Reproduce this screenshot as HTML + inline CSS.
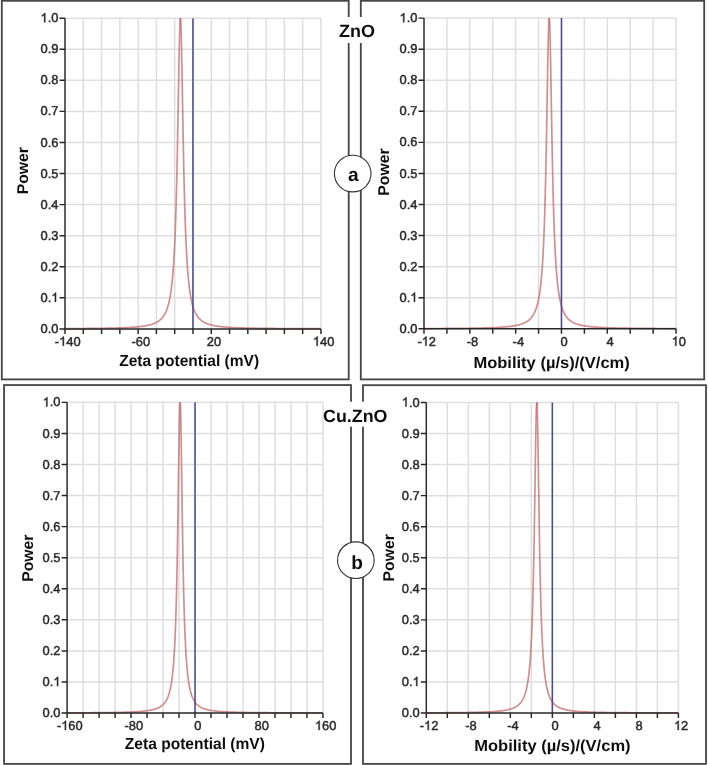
<!DOCTYPE html>
<html><head><meta charset="utf-8"><title>Zeta potential</title>
<style>
html,body{margin:0;padding:0;background:#fff;}
body{width:708px;height:765px;overflow:hidden;}
svg{display:block;will-change:transform;}
text{text-rendering:geometricPrecision;}
.t{font-family:"Liberation Sans",sans-serif;font-size:12.9px;fill:#2a2a2a;stroke:#2a2a2a;stroke-width:0.45px;}
.b{font-family:"Liberation Sans",sans-serif;font-size:16.0px;font-weight:bold;fill:#111;}
.z{fill-opacity:0;stroke-opacity:0;}
.o{fill:#2a2a2a;stroke:#2a2a2a;stroke-width:0.035;}
.p{font-family:"Liberation Sans",sans-serif;font-size:15.6px;font-weight:bold;fill:#111;}
.h{font-family:"Liberation Sans",sans-serif;font-size:17.7px;font-weight:bold;fill:#111;}
.c{font-family:"Liberation Sans",sans-serif;font-size:19.1px;font-weight:bold;fill:#111;}
</style></head>
<body>
<svg width="708" height="765" viewBox="0 0 708 765">
<defs><filter id="bl" x="0" y="0" width="1" height="1"><feGaussianBlur stdDeviation="0.45"/></filter></defs>
<g filter="url(#bl)">
<rect width="708" height="765" fill="#fff"/>
<rect x="1.8" y="0.8" width="346.9" height="378.6" fill="none" stroke="#444444" stroke-width="1.8"/>
<rect x="360.8" y="0.8" width="343.4" height="378.6" fill="none" stroke="#444444" stroke-width="1.8"/>
<rect x="4.05" y="385.05" width="346.95" height="378.85" fill="none" stroke="#444444" stroke-width="1.8"/>
<rect x="363" y="385.2" width="343" height="378.7" fill="none" stroke="#444444" stroke-width="1.8"/>
<path d="M83.28 18.15V328.9M101.56 18.15V328.9M119.85 18.15V328.9M138.13 18.15V328.9M156.41 18.15V328.9M174.69 18.15V328.9M192.97 18.15V328.9M211.26 18.15V328.9M229.54 18.15V328.9M247.82 18.15V328.9M266.1 18.15V328.9M284.39 18.15V328.9M302.67 18.15V328.9M320.95 18.15V328.9M65 18.15H320.95M65 49.22H320.95M65 80.3H320.95M65 111.38H320.95M65 142.45H320.95M65 173.53H320.95M65 204.6H320.95M65 235.68H320.95M65 266.75H320.95M65 297.82H320.95" stroke="#dedede" stroke-width="1.5" fill="none"/>
<clipPath id="c5"><rect x="65" y="18.05" width="255.95" height="312.75"/></clipPath>
<path d="M65 328.61 L65.25 328.61 L65.5 328.61 L65.75 328.61 L66 328.61 L66.25 328.61 L66.5 328.61 L66.75 328.61 L67 328.6 L67.25 328.6 L67.5 328.6 L67.75 328.6 L68 328.6 L68.25 328.6 L68.5 328.6 L68.75 328.59 L69 328.59 L69.25 328.59 L69.5 328.59 L69.75 328.59 L70 328.59 L70.25 328.59 L70.5 328.59 L70.75 328.58 L71 328.58 L71.25 328.58 L71.5 328.58 L71.75 328.58 L72 328.58 L72.25 328.57 L72.5 328.57 L72.75 328.57 L73 328.57 L73.25 328.57 L73.5 328.57 L73.75 328.57 L74 328.56 L74.25 328.56 L74.5 328.56 L74.75 328.56 L75 328.56 L75.25 328.56 L75.5 328.55 L75.75 328.55 L76 328.55 L76.25 328.55 L76.5 328.55 L76.75 328.55 L77 328.54 L77.25 328.54 L77.5 328.54 L77.75 328.54 L78 328.54 L78.25 328.54 L78.5 328.53 L78.75 328.53 L79 328.53 L79.25 328.53 L79.5 328.53 L79.75 328.52 L80 328.52 L80.25 328.52 L80.5 328.52 L80.75 328.52 L81 328.52 L81.25 328.51 L81.5 328.51 L81.75 328.51 L82 328.51 L82.25 328.51 L82.5 328.5 L82.75 328.5 L83 328.5 L83.25 328.5 L83.5 328.5 L83.75 328.49 L84 328.49 L84.25 328.49 L84.5 328.49 L84.75 328.48 L85 328.48 L85.25 328.48 L85.5 328.48 L85.75 328.48 L86 328.47 L86.25 328.47 L86.5 328.47 L86.75 328.47 L87 328.46 L87.25 328.46 L87.5 328.46 L87.75 328.46 L88 328.45 L88.25 328.45 L88.5 328.45 L88.75 328.45 L89 328.44 L89.25 328.44 L89.5 328.44 L89.75 328.44 L90 328.43 L90.25 328.43 L90.5 328.43 L90.75 328.43 L91 328.42 L91.25 328.42 L91.5 328.42 L91.75 328.42 L92 328.41 L92.25 328.41 L92.5 328.41 L92.75 328.41 L93 328.4 L93.25 328.4 L93.5 328.4 L93.75 328.39 L94 328.39 L94.25 328.39 L94.5 328.38 L94.75 328.38 L95 328.38 L95.25 328.38 L95.5 328.37 L95.75 328.37 L96 328.37 L96.25 328.36 L96.5 328.36 L96.75 328.36 L97 328.35 L97.25 328.35 L97.5 328.35 L97.75 328.34 L98 328.34 L98.25 328.34 L98.5 328.33 L98.75 328.33 L99 328.33 L99.25 328.32 L99.5 328.32 L99.75 328.32 L100 328.31 L100.25 328.31 L100.5 328.3 L100.75 328.3 L101 328.3 L101.25 328.29 L101.5 328.29 L101.75 328.29 L102 328.28 L102.25 328.28 L102.5 328.27 L102.75 328.27 L103 328.27 L103.25 328.26 L103.5 328.26 L103.75 328.25 L104 328.25 L104.25 328.24 L104.5 328.24 L104.75 328.24 L105 328.23 L105.25 328.23 L105.5 328.22 L105.75 328.22 L106 328.21 L106.25 328.21 L106.5 328.2 L106.75 328.2 L107 328.2 L107.25 328.19 L107.5 328.19 L107.75 328.18 L108 328.18 L108.25 328.17 L108.5 328.17 L108.75 328.16 L109 328.16 L109.25 328.15 L109.5 328.14 L109.75 328.14 L110 328.13 L110.25 328.13 L110.5 328.12 L110.75 328.12 L111 328.11 L111.25 328.11 L111.5 328.1 L111.75 328.09 L112 328.09 L112.25 328.08 L112.5 328.08 L112.75 328.07 L113 328.06 L113.25 328.06 L113.5 328.05 L113.75 328.05 L114 328.04 L114.25 328.03 L114.5 328.03 L114.75 328.02 L115 328.01 L115.25 328.01 L115.5 328 L115.75 327.99 L116 327.98 L116.25 327.98 L116.5 327.97 L116.75 327.96 L117 327.96 L117.25 327.95 L117.5 327.94 L117.75 327.93 L118 327.93 L118.25 327.92 L118.5 327.91 L118.75 327.9 L119 327.89 L119.25 327.89 L119.5 327.88 L119.75 327.87 L120 327.86 L120.25 327.85 L120.5 327.84 L120.75 327.83 L121 327.82 L121.25 327.82 L121.5 327.81 L121.75 327.8 L122 327.79 L122.25 327.78 L122.5 327.77 L122.75 327.76 L123 327.75 L123.25 327.74 L123.5 327.73 L123.75 327.72 L124 327.71 L124.25 327.7 L124.5 327.69 L124.75 327.68 L125 327.66 L125.25 327.65 L125.5 327.64 L125.75 327.63 L126 327.62 L126.25 327.61 L126.5 327.6 L126.75 327.58 L127 327.57 L127.25 327.56 L127.5 327.55 L127.75 327.53 L128 327.52 L128.25 327.51 L128.5 327.49 L128.75 327.48 L129 327.47 L129.25 327.45 L129.5 327.44 L129.75 327.42 L130 327.41 L130.25 327.39 L130.5 327.38 L130.75 327.36 L131 327.35 L131.25 327.33 L131.5 327.32 L131.75 327.3 L132 327.28 L132.25 327.27 L132.5 327.25 L132.75 327.23 L133 327.21 L133.25 327.2 L133.5 327.18 L133.75 327.16 L134 327.14 L134.25 327.12 L134.5 327.1 L134.75 327.08 L135 327.06 L135.25 327.04 L135.5 327.02 L135.75 327 L136 326.98 L136.25 326.96 L136.5 326.94 L136.75 326.91 L137 326.89 L137.25 326.87 L137.5 326.85 L137.75 326.82 L138 326.8 L138.25 326.77 L138.5 326.75 L138.75 326.72 L139 326.69 L139.25 326.67 L139.5 326.64 L139.75 326.61 L140 326.59 L140.25 326.56 L140.5 326.53 L140.75 326.5 L141 326.47 L141.25 326.44 L141.5 326.4 L141.75 326.37 L142 326.34 L142.25 326.31 L142.5 326.27 L142.75 326.24 L143 326.2 L143.25 326.17 L143.5 326.13 L143.75 326.09 L144 326.05 L144.25 326.01 L144.5 325.97 L144.75 325.93 L145 325.89 L145.25 325.85 L145.5 325.81 L145.75 325.76 L146 325.72 L146.25 325.67 L146.5 325.62 L146.75 325.57 L147 325.52 L147.25 325.47 L147.5 325.42 L147.75 325.37 L148 325.32 L148.25 325.26 L148.5 325.2 L148.75 325.15 L149 325.09 L149.25 325.03 L149.5 324.96 L149.75 324.9 L150 324.83 L150.25 324.77 L150.5 324.7 L150.75 324.63 L151 324.56 L151.25 324.48 L151.5 324.41 L151.75 324.33 L152 324.25 L152.25 324.17 L152.5 324.09 L152.75 324 L153 323.91 L153.25 323.82 L153.5 323.73 L153.75 323.63 L154 323.53 L154.25 323.43 L154.5 323.33 L154.75 323.22 L155 323.11 L155.25 323 L155.5 322.88 L155.75 322.76 L156 322.63 L156.25 322.51 L156.5 322.38 L156.75 322.24 L157 322.1 L157.25 321.96 L157.5 321.81 L157.75 321.65 L158 321.49 L158.25 321.33 L158.5 321.16 L158.75 320.99 L159 320.8 L159.25 320.62 L159.5 320.42 L159.75 320.22 L160 320.01 L160.25 319.8 L160.5 319.58 L160.75 319.34 L161 319.1 L161.25 318.86 L161.5 318.6 L161.75 318.33 L162 318.05 L162.25 317.76 L162.5 317.46 L162.75 317.14 L163 316.82 L163.25 316.47 L163.5 316.12 L163.75 315.75 L164 315.36 L164.25 314.96 L164.5 314.54 L164.75 314.1 L165 313.64 L165.25 313.16 L165.5 312.65 L165.75 312.12 L166 311.57 L166.25 310.98 L166.5 310.37 L166.75 309.73 L167 309.05 L167.25 308.34 L167.5 307.59 L167.75 306.8 L168 305.97 L168.25 305.09 L168.5 304.16 L168.75 303.17 L169 302.13 L169.25 301.03 L169.5 299.85 L169.75 298.61 L170 297.29 L170.25 295.88 L170.5 294.38 L170.75 292.77 L171 291.06 L171.25 289.24 L171.5 287.28 L171.75 285.18 L172 282.93 L172.25 280.51 L172.5 277.91 L172.75 275.11 L173 272.09 L173.25 268.83 L173.5 265.31 L173.75 261.49 L174 257.36 L174.25 252.88 L174.5 248.01 L174.75 242.72 L175 236.97 L175.25 230.72 L175.5 223.92 L175.75 216.52 L176 208.47 L176.25 199.74 L176.5 190.27 L176.75 180.04 L177 169.02 L177.25 157.21 L177.5 144.65 L177.75 131.38 L178 117.53 L178.25 103.29 L178.5 88.88 L178.75 74.65 L179 61.01 L179.25 48.43 L179.5 37.42 L179.75 28.51 L180 22.16 L180.25 18.72 L180.4 18.15" stroke="#bf6464" stroke-opacity="0.72" stroke-width="1.7" fill="none" stroke-linejoin="round" stroke-linecap="round" clip-path="url(#c5)"/>
<path d="M180.4 18.15 L180.5 18.4 L180.75 21.23 L181 27.02 L181.25 35.46 L181.5 46.09 L181.75 58.39 L182 71.87 L182.25 86.01 L182.5 100.41 L182.75 114.71 L183 128.65 L183.25 142.05 L183.5 154.76 L183.75 166.72 L184 177.9 L184.25 188.29 L184.5 197.91 L184.75 206.78 L185 214.96 L185.25 222.49 L185.5 229.4 L185.75 235.76 L186 241.61 L186.25 246.99 L186.5 251.94 L186.75 256.49 L187 260.69 L187.25 264.57 L187.5 268.15 L187.75 271.46 L188 274.53 L188.25 277.37 L188.5 280.01 L188.75 282.46 L189 284.74 L189.25 286.87 L189.5 288.85 L189.75 290.71 L190 292.44 L190.25 294.06 L190.5 295.58 L190.75 297.01 L191 298.35 L191.25 299.61 L191.5 300.8 L191.75 301.92 L192 302.97 L192.25 303.97 L192.5 304.91 L192.75 305.8 L193 306.64 L193.25 307.44 L193.5 308.2 L193.75 308.91 L194 309.6 L194.25 310.25 L194.5 310.86 L194.75 311.45 L195 312.01 L195.25 312.55 L195.5 313.06 L195.75 313.54 L196 314.01 L196.25 314.45 L196.5 314.88 L196.75 315.28 L197 315.67 L197.25 316.05 L197.5 316.41 L197.75 316.75 L198 317.08 L198.25 317.4 L198.5 317.7 L198.75 317.99 L199 318.27 L199.25 318.54 L199.5 318.8 L199.75 319.06 L200 319.3 L200.25 319.53 L200.5 319.76 L200.75 319.97 L201 320.18 L201.25 320.38 L201.5 320.58 L201.75 320.77 L202 320.95 L202.25 321.13 L202.5 321.3 L202.75 321.46 L203 321.62 L203.25 321.78 L203.5 321.93 L203.75 322.07 L204 322.21 L204.25 322.35 L204.5 322.48 L204.75 322.61 L205 322.73 L205.25 322.86 L205.5 322.97 L205.75 323.09 L206 323.2 L206.25 323.31 L206.5 323.41 L206.75 323.51 L207 323.61 L207.25 323.71 L207.5 323.8 L207.75 323.89 L208 323.98 L208.25 324.07 L208.5 324.15 L208.75 324.23 L209 324.31 L209.25 324.39 L209.5 324.47 L209.75 324.54 L210 324.62 L210.25 324.69 L210.5 324.75 L210.75 324.82 L211 324.89 L211.25 324.95 L211.5 325.01 L211.75 325.07 L212 325.13 L212.25 325.19 L212.5 325.25 L212.75 325.3 L213 325.36 L213.25 325.41 L213.5 325.46 L213.75 325.51 L214 325.56 L214.25 325.61 L214.5 325.66 L214.75 325.71 L215 325.75 L215.25 325.8 L215.5 325.84 L215.75 325.88 L216 325.93 L216.25 325.97 L216.5 326.01 L216.75 326.05 L217 326.08 L217.25 326.12 L217.5 326.16 L217.75 326.19 L218 326.23 L218.25 326.27 L218.5 326.3 L218.75 326.33 L219 326.37 L219.25 326.4 L219.5 326.43 L219.75 326.46 L220 326.49 L220.25 326.52 L220.5 326.55 L220.75 326.58 L221 326.61 L221.25 326.64 L221.5 326.66 L221.75 326.69 L222 326.72 L222.25 326.74 L222.5 326.77 L222.75 326.79 L223 326.82 L223.25 326.84 L223.5 326.86 L223.75 326.89 L224 326.91 L224.25 326.93 L224.5 326.95 L224.75 326.98 L225 327 L225.25 327.02 L225.5 327.04 L225.75 327.06 L226 327.08 L226.25 327.1 L226.5 327.12 L226.75 327.14 L227 327.16 L227.25 327.18 L227.5 327.19 L227.75 327.21 L228 327.23 L228.25 327.25 L228.5 327.26 L228.75 327.28 L229 327.3 L229.25 327.31 L229.5 327.33 L229.75 327.34 L230 327.36 L230.25 327.38 L230.5 327.39 L230.75 327.41 L231 327.42 L231.25 327.43 L231.5 327.45 L231.75 327.46 L232 327.48 L232.25 327.49 L232.5 327.5 L232.75 327.52 L233 327.53 L233.25 327.54 L233.5 327.56 L233.75 327.57 L234 327.58 L234.25 327.59 L234.5 327.6 L234.75 327.62 L235 327.63 L235.25 327.64 L235.5 327.65 L235.75 327.66 L236 327.67 L236.25 327.68 L236.5 327.7 L236.75 327.71 L237 327.72 L237.25 327.73 L237.5 327.74 L237.75 327.75 L238 327.76 L238.25 327.77 L238.5 327.78 L238.75 327.79 L239 327.8 L239.25 327.8 L239.5 327.81 L239.75 327.82 L240 327.83 L240.25 327.84 L240.5 327.85 L240.75 327.86 L241 327.87 L241.25 327.88 L241.5 327.88 L241.75 327.89 L242 327.9 L242.25 327.91 L242.5 327.92 L242.75 327.92 L243 327.93 L243.25 327.94 L243.5 327.95 L243.75 327.95 L244 327.96 L244.25 327.97 L244.5 327.98 L244.75 327.98 L245 327.99 L245.25 328 L245.5 328 L245.75 328.01 L246 328.02 L246.25 328.02 L246.5 328.03 L246.75 328.04 L247 328.04 L247.25 328.05 L247.5 328.06 L247.75 328.06 L248 328.07 L248.25 328.08 L248.5 328.08 L248.75 328.09 L249 328.09 L249.25 328.1 L249.5 328.1 L249.75 328.11 L250 328.12 L250.25 328.12 L250.5 328.13 L250.75 328.13 L251 328.14 L251.25 328.14 L251.5 328.15 L251.75 328.15 L252 328.16 L252.25 328.16 L252.5 328.17 L252.75 328.17 L253 328.18 L253.25 328.18 L253.5 328.19 L253.75 328.19 L254 328.2 L254.25 328.2 L254.5 328.21 L254.75 328.21 L255 328.22 L255.25 328.22 L255.5 328.23 L255.75 328.23 L256 328.24 L256.25 328.24 L256.5 328.24 L256.75 328.25 L257 328.25 L257.25 328.26 L257.5 328.26 L257.75 328.27 L258 328.27 L258.25 328.27 L258.5 328.28 L258.75 328.28 L259 328.29 L259.25 328.29 L259.5 328.29 L259.75 328.3 L260 328.3 L260.25 328.3 L260.5 328.31 L260.75 328.31 L261 328.32 L261.25 328.32 L261.5 328.32 L261.75 328.33 L262 328.33 L262.25 328.33 L262.5 328.34 L262.75 328.34 L263 328.34 L263.25 328.35 L263.5 328.35 L263.75 328.35 L264 328.36 L264.25 328.36 L264.5 328.36 L264.75 328.37 L265 328.37 L265.25 328.37 L265.5 328.38 L265.75 328.38 L266 328.38 L266.25 328.38 L266.5 328.39 L266.75 328.39 L267 328.39 L267.25 328.4 L267.5 328.4 L267.75 328.4 L268 328.4 L268.25 328.41 L268.5 328.41 L268.75 328.41 L269 328.42 L269.25 328.42 L269.5 328.42 L269.75 328.42 L270 328.43 L270.25 328.43 L270.5 328.43 L270.75 328.43 L271 328.44 L271.25 328.44 L271.5 328.44 L271.75 328.44 L272 328.45 L272.25 328.45 L272.5 328.45 L272.75 328.45 L273 328.46 L273.25 328.46 L273.5 328.46 L273.75 328.46 L274 328.47 L274.25 328.47 L274.5 328.47 L274.75 328.47 L275 328.48 L275.25 328.48 L275.5 328.48 L275.75 328.48 L276 328.48 L276.25 328.49 L276.5 328.49 L276.75 328.49 L277 328.49 L277.25 328.49 L277.5 328.5 L277.75 328.5 L278 328.5 L278.25 328.5 L278.5 328.5 L278.75 328.51 L279 328.51 L279.25 328.51 L279.5 328.51 L279.75 328.51 L280 328.52 L280.25 328.52 L280.5 328.52 L280.75 328.52 L281 328.52 L281.25 328.53 L281.5 328.53 L281.75 328.53 L282 328.53 L282.25 328.53 L282.5 328.54 L282.75 328.54 L283 328.54 L283.25 328.54 L283.5 328.54 L283.75 328.54 L284 328.55 L284.25 328.55 L284.5 328.55 L284.75 328.55 L285 328.55 L285.25 328.55 L285.5 328.56 L285.75 328.56 L286 328.56 L286.25 328.56 L286.5 328.56 L286.75 328.56 L287 328.57 L287.25 328.57 L287.5 328.57 L287.75 328.57 L288 328.57 L288.25 328.57 L288.5 328.57 L288.75 328.58 L289 328.58 L289.25 328.58 L289.5 328.58 L289.75 328.58 L290 328.58 L290.25 328.58 L290.5 328.59 L290.75 328.59 L291 328.59 L291.25 328.59 L291.5 328.59 L291.75 328.59 L292 328.59 L292.25 328.6 L292.5 328.6 L292.75 328.6 L293 328.6 L293.25 328.6 L293.5 328.6 L293.75 328.6 L294 328.61 L294.25 328.61 L294.5 328.61 L294.75 328.61 L295 328.61 L295.25 328.61 L295.5 328.61 L295.75 328.61 L296 328.62 L296.25 328.62 L296.5 328.62 L296.75 328.62 L297 328.62 L297.25 328.62 L297.5 328.62 L297.75 328.62 L298 328.62 L298.25 328.63 L298.5 328.63 L298.75 328.63 L299 328.63 L299.25 328.63 L299.5 328.63 L299.75 328.63 L300 328.63 L300.25 328.64 L300.5 328.64 L300.75 328.64 L301 328.64 L301.25 328.64 L301.5 328.64 L301.75 328.64 L302 328.64 L302.25 328.64 L302.5 328.64 L302.75 328.65 L303 328.65 L303.25 328.65 L303.5 328.65 L303.75 328.65 L304 328.65 L304.25 328.65 L304.5 328.65 L304.75 328.65 L305 328.65 L305.25 328.66 L305.5 328.66 L305.75 328.66 L306 328.66 L306.25 328.66 L306.5 328.66 L306.75 328.66 L307 328.66 L307.25 328.66 L307.5 328.66 L307.75 328.67 L308 328.67 L308.25 328.67 L308.5 328.67 L308.75 328.67 L309 328.67 L309.25 328.67 L309.5 328.67 L309.75 328.67 L310 328.67 L310.25 328.67 L310.5 328.68 L310.75 328.68 L311 328.68 L311.25 328.68 L311.5 328.68 L311.75 328.68 L312 328.68 L312.25 328.68 L312.5 328.68 L312.75 328.68 L313 328.68 L313.25 328.68 L313.5 328.69 L313.75 328.69 L314 328.69 L314.25 328.69 L314.5 328.69 L314.75 328.69 L315 328.69 L315.25 328.69 L315.5 328.69 L315.75 328.69 L316 328.69 L316.25 328.69 L316.5 328.69 L316.75 328.7 L317 328.7 L317.25 328.7 L317.5 328.7 L317.75 328.7 L318 328.7 L318.25 328.7 L318.5 328.7 L318.75 328.7 L319 328.7 L319.25 328.7 L319.5 328.7 L319.75 328.7 L320 328.7 L320.25 328.71 L320.5 328.71 L320.75 328.71" stroke="#bf6464" stroke-opacity="0.72" stroke-width="1.7" fill="none" stroke-linejoin="round" stroke-linecap="round" clip-path="url(#c5)"/>
<path d="M192.97 18.15V328.9" stroke="#4a4a8c" stroke-width="1.5" fill="none"/>
<path d="M65 18.15V328.9H320.95M59.5 18.15H65M59.5 49.22H65M59.5 80.3H65M59.5 111.38H65M59.5 142.45H65M59.5 173.53H65M59.5 204.6H65M59.5 235.68H65M59.5 266.75H65M59.5 297.82H65M59.5 328.9H65M65 328.9V333.9M83.28 328.9V333.9M101.56 328.9V333.9M119.85 328.9V333.9M138.13 328.9V333.9M156.41 328.9V333.9M174.69 328.9V333.9M192.97 328.9V333.9M211.26 328.9V333.9M229.54 328.9V333.9M247.82 328.9V333.9M266.1 328.9V333.9M284.39 328.9V333.9M302.67 328.9V333.9M320.95 328.9V333.9" stroke="#262626" stroke-width="1.45" fill="none"/>
<text x="40.47" y="22.25" class="t"><tspan class="z">1</tspan>.0</text>
<path class="o" transform="translate(40.47 22.25) scale(12.9)" d="M0.3726 0L0.2847 0L0.2847 -0.56Q0.2529 -0.5298 0.2026 -0.5Q0.1523 -0.4702 0.1089 -0.4541L0.1089 -0.539Q0.1831 -0.5737 0.2378 -0.6223Q0.2925 -0.6709 0.3179 -0.7158L0.3726 -0.7158Z"/>
<text x="40.47" y="53.32" class="t">0.9</text>
<text x="40.47" y="84.4" class="t">0.8</text>
<text x="40.47" y="115.47" class="t">0.7</text>
<text x="40.47" y="146.55" class="t">0.6</text>
<text x="40.47" y="177.62" class="t">0.5</text>
<text x="40.47" y="208.7" class="t">0.4</text>
<text x="40.47" y="239.78" class="t">0.3</text>
<text x="40.47" y="270.85" class="t">0.2</text>
<text x="40.47" y="301.93" class="t">0.<tspan class="z">1</tspan></text>
<path class="o" transform="translate(51.23 301.93) scale(12.9)" d="M0.3726 0L0.2847 0L0.2847 -0.56Q0.2529 -0.5298 0.2026 -0.5Q0.1523 -0.4702 0.1089 -0.4541L0.1089 -0.539Q0.1831 -0.5737 0.2378 -0.6223Q0.2925 -0.6709 0.3179 -0.7158L0.3726 -0.7158Z"/>
<text x="40.47" y="333" class="t">0.0</text>
<text x="54.79" y="345.8" class="t">-<tspan class="z">1</tspan>40</text>
<path class="o" transform="translate(59.09 345.8) scale(12.9)" d="M0.3726 0L0.2847 0L0.2847 -0.56Q0.2529 -0.5298 0.2026 -0.5Q0.1523 -0.4702 0.1089 -0.4541L0.1089 -0.539Q0.1831 -0.5737 0.2378 -0.6223Q0.2925 -0.6709 0.3179 -0.7158L0.3726 -0.7158Z"/>
<text x="131.51" y="345.8" class="t">-60</text>
<text x="206.78" y="345.8" class="t">20</text>
<text x="312.89" y="345.8" class="t"><tspan class="z">1</tspan>40</text>
<path class="o" transform="translate(312.89 345.8) scale(12.9)" d="M0.3726 0L0.2847 0L0.2847 -0.56Q0.2529 -0.5298 0.2026 -0.5Q0.1523 -0.4702 0.1089 -0.4541L0.1089 -0.539Q0.1831 -0.5737 0.2378 -0.6223Q0.2925 -0.6709 0.3179 -0.7158L0.3726 -0.7158Z"/>
<text transform="translate(28.4 170.75) rotate(-90)" text-anchor="middle" class="p" textLength="47.2" lengthAdjust="spacingAndGlyphs">Power</text>
<text x="119.2" y="366.3" class="b" textLength="139.9" lengthAdjust="spacingAndGlyphs">Zeta potential (mV)</text>
<path d="M446.91 18.1V328.8M469.83 18.1V328.8M492.74 18.1V328.8M515.65 18.1V328.8M538.57 18.1V328.8M561.48 18.1V328.8M584.4 18.1V328.8M607.31 18.1V328.8M630.22 18.1V328.8M653.14 18.1V328.8M676.05 18.1V328.8M424 18.1H676.05M424 49.17H676.05M424 80.24H676.05M424 111.31H676.05M424 142.38H676.05M424 173.45H676.05M424 204.52H676.05M424 235.59H676.05M424 266.66H676.05M424 297.73H676.05" stroke="#dedede" stroke-width="1.5" fill="none"/>
<clipPath id="c32"><rect x="424" y="18" width="252.05" height="312.7"/></clipPath>
<path d="M424 328.56 L424.25 328.56 L424.5 328.56 L424.75 328.56 L425 328.56 L425.25 328.56 L425.5 328.56 L425.75 328.56 L426 328.56 L426.25 328.56 L426.5 328.55 L426.75 328.55 L427 328.55 L427.25 328.55 L427.5 328.55 L427.75 328.55 L428 328.55 L428.25 328.55 L428.5 328.55 L428.75 328.55 L429 328.54 L429.25 328.54 L429.5 328.54 L429.75 328.54 L430 328.54 L430.25 328.54 L430.5 328.54 L430.75 328.54 L431 328.54 L431.25 328.53 L431.5 328.53 L431.75 328.53 L432 328.53 L432.25 328.53 L432.5 328.53 L432.75 328.53 L433 328.53 L433.25 328.53 L433.5 328.52 L433.75 328.52 L434 328.52 L434.25 328.52 L434.5 328.52 L434.75 328.52 L435 328.52 L435.25 328.52 L435.5 328.51 L435.75 328.51 L436 328.51 L436.25 328.51 L436.5 328.51 L436.75 328.51 L437 328.51 L437.25 328.51 L437.5 328.5 L437.75 328.5 L438 328.5 L438.25 328.5 L438.5 328.5 L438.75 328.5 L439 328.5 L439.25 328.49 L439.5 328.49 L439.75 328.49 L440 328.49 L440.25 328.49 L440.5 328.49 L440.75 328.49 L441 328.48 L441.25 328.48 L441.5 328.48 L441.75 328.48 L442 328.48 L442.25 328.48 L442.5 328.48 L442.75 328.47 L443 328.47 L443.25 328.47 L443.5 328.47 L443.75 328.47 L444 328.47 L444.25 328.46 L444.5 328.46 L444.75 328.46 L445 328.46 L445.25 328.46 L445.5 328.46 L445.75 328.45 L446 328.45 L446.25 328.45 L446.5 328.45 L446.75 328.45 L447 328.45 L447.25 328.44 L447.5 328.44 L447.75 328.44 L448 328.44 L448.25 328.44 L448.5 328.44 L448.75 328.43 L449 328.43 L449.25 328.43 L449.5 328.43 L449.75 328.43 L450 328.42 L450.25 328.42 L450.5 328.42 L450.75 328.42 L451 328.42 L451.25 328.42 L451.5 328.41 L451.75 328.41 L452 328.41 L452.25 328.41 L452.5 328.41 L452.75 328.4 L453 328.4 L453.25 328.4 L453.5 328.4 L453.75 328.39 L454 328.39 L454.25 328.39 L454.5 328.39 L454.75 328.39 L455 328.38 L455.25 328.38 L455.5 328.38 L455.75 328.38 L456 328.37 L456.25 328.37 L456.5 328.37 L456.75 328.37 L457 328.37 L457.25 328.36 L457.5 328.36 L457.75 328.36 L458 328.36 L458.25 328.35 L458.5 328.35 L458.75 328.35 L459 328.35 L459.25 328.34 L459.5 328.34 L459.75 328.34 L460 328.34 L460.25 328.33 L460.5 328.33 L460.75 328.33 L461 328.33 L461.25 328.32 L461.5 328.32 L461.75 328.32 L462 328.31 L462.25 328.31 L462.5 328.31 L462.75 328.31 L463 328.3 L463.25 328.3 L463.5 328.3 L463.75 328.29 L464 328.29 L464.25 328.29 L464.5 328.29 L464.75 328.28 L465 328.28 L465.25 328.28 L465.5 328.27 L465.75 328.27 L466 328.27 L466.25 328.26 L466.5 328.26 L466.75 328.26 L467 328.25 L467.25 328.25 L467.5 328.25 L467.75 328.24 L468 328.24 L468.25 328.24 L468.5 328.23 L468.75 328.23 L469 328.23 L469.25 328.22 L469.5 328.22 L469.75 328.22 L470 328.21 L470.25 328.21 L470.5 328.2 L470.75 328.2 L471 328.2 L471.25 328.19 L471.5 328.19 L471.75 328.18 L472 328.18 L472.25 328.18 L472.5 328.17 L472.75 328.17 L473 328.16 L473.25 328.16 L473.5 328.16 L473.75 328.15 L474 328.15 L474.25 328.14 L474.5 328.14 L474.75 328.13 L475 328.13 L475.25 328.13 L475.5 328.12 L475.75 328.12 L476 328.11 L476.25 328.11 L476.5 328.1 L476.75 328.1 L477 328.09 L477.25 328.09 L477.5 328.08 L477.75 328.08 L478 328.07 L478.25 328.07 L478.5 328.06 L478.75 328.06 L479 328.05 L479.25 328.05 L479.5 328.04 L479.75 328.04 L480 328.03 L480.25 328.02 L480.5 328.02 L480.75 328.01 L481 328.01 L481.25 328 L481.5 328 L481.75 327.99 L482 327.98 L482.25 327.98 L482.5 327.97 L482.75 327.96 L483 327.96 L483.25 327.95 L483.5 327.95 L483.75 327.94 L484 327.93 L484.25 327.93 L484.5 327.92 L484.75 327.91 L485 327.91 L485.25 327.9 L485.5 327.89 L485.75 327.88 L486 327.88 L486.25 327.87 L486.5 327.86 L486.75 327.85 L487 327.85 L487.25 327.84 L487.5 327.83 L487.75 327.82 L488 327.82 L488.25 327.81 L488.5 327.8 L488.75 327.79 L489 327.78 L489.25 327.77 L489.5 327.77 L489.75 327.76 L490 327.75 L490.25 327.74 L490.5 327.73 L490.75 327.72 L491 327.71 L491.25 327.7 L491.5 327.69 L491.75 327.68 L492 327.67 L492.25 327.66 L492.5 327.65 L492.75 327.64 L493 327.63 L493.25 327.62 L493.5 327.61 L493.75 327.6 L494 327.59 L494.25 327.58 L494.5 327.57 L494.75 327.56 L495 327.55 L495.25 327.53 L495.5 327.52 L495.75 327.51 L496 327.5 L496.25 327.49 L496.5 327.47 L496.75 327.46 L497 327.45 L497.25 327.44 L497.5 327.42 L497.75 327.41 L498 327.4 L498.25 327.38 L498.5 327.37 L498.75 327.35 L499 327.34 L499.25 327.32 L499.5 327.31 L499.75 327.29 L500 327.28 L500.25 327.26 L500.5 327.25 L500.75 327.23 L501 327.22 L501.25 327.2 L501.5 327.18 L501.75 327.17 L502 327.15 L502.25 327.13 L502.5 327.11 L502.75 327.1 L503 327.08 L503.25 327.06 L503.5 327.04 L503.75 327.02 L504 327 L504.25 326.98 L504.5 326.96 L504.75 326.94 L505 326.92 L505.25 326.9 L505.5 326.88 L505.75 326.85 L506 326.83 L506.25 326.81 L506.5 326.78 L506.75 326.76 L507 326.74 L507.25 326.71 L507.5 326.69 L507.75 326.66 L508 326.64 L508.25 326.61 L508.5 326.58 L508.75 326.56 L509 326.53 L509.25 326.5 L509.5 326.47 L509.75 326.44 L510 326.41 L510.25 326.38 L510.5 326.35 L510.75 326.32 L511 326.29 L511.25 326.25 L511.5 326.22 L511.75 326.19 L512 326.15 L512.25 326.11 L512.5 326.08 L512.75 326.04 L513 326 L513.25 325.96 L513.5 325.93 L513.75 325.88 L514 325.84 L514.25 325.8 L514.5 325.76 L514.75 325.71 L515 325.67 L515.25 325.62 L515.5 325.58 L515.75 325.53 L516 325.48 L516.25 325.43 L516.5 325.38 L516.75 325.33 L517 325.27 L517.25 325.22 L517.5 325.16 L517.75 325.11 L518 325.05 L518.25 324.99 L518.5 324.93 L518.75 324.86 L519 324.8 L519.25 324.73 L519.5 324.66 L519.75 324.59 L520 324.52 L520.25 324.45 L520.5 324.37 L520.75 324.3 L521 324.22 L521.25 324.14 L521.5 324.05 L521.75 323.97 L522 323.88 L522.25 323.79 L522.5 323.7 L522.75 323.6 L523 323.5 L523.25 323.4 L523.5 323.3 L523.75 323.19 L524 323.08 L524.25 322.97 L524.5 322.85 L524.75 322.73 L525 322.61 L525.25 322.48 L525.5 322.35 L525.75 322.22 L526 322.08 L526.25 321.93 L526.5 321.79 L526.75 321.63 L527 321.47 L527.25 321.31 L527.5 321.14 L527.75 320.97 L528 320.78 L528.25 320.6 L528.5 320.4 L528.75 320.2 L529 319.99 L529.25 319.78 L529.5 319.55 L529.75 319.32 L530 319.08 L530.25 318.83 L530.5 318.57 L530.75 318.3 L531 318.02 L531.25 317.73 L531.5 317.43 L531.75 317.11 L532 316.78 L532.25 316.44 L532.5 316.08 L532.75 315.71 L533 315.32 L533.25 314.91 L533.5 314.49 L533.75 314.04 L534 313.58 L534.25 313.09 L534.5 312.58 L534.75 312.04 L535 311.48 L535.25 310.89 L535.5 310.27 L535.75 309.62 L536 308.93 L536.25 308.21 L536.5 307.45 L536.75 306.64 L537 305.79 L537.25 304.9 L537.5 303.95 L537.75 302.94 L538 301.87 L538.25 300.74 L538.5 299.54 L538.75 298.26 L539 296.9 L539.25 295.46 L539.5 293.91 L539.75 292.26 L540 290.49 L540.25 288.61 L540.5 286.58 L540.75 284.41 L541 282.07 L541.25 279.56 L541.5 276.85 L541.75 273.94 L542 270.78 L542.25 267.37 L542.5 263.68 L542.75 259.68 L543 255.34 L543.25 250.62 L543.5 245.5 L543.75 239.91 L544 233.84 L544.25 227.22 L544.5 220.01 L544.75 212.16 L545 203.62 L545.25 194.35 L545.5 184.3 L545.75 173.45 L546 161.79 L546.25 149.32 L546.5 136.12 L546.75 122.26 L547 107.92 L547.25 93.33 L547.5 78.8 L547.75 64.74 L548 51.63 L548.25 40 L548.5 30.39 L548.75 23.3 L549 19.14 L549.2 18.1" stroke="#bf6464" stroke-opacity="0.72" stroke-width="1.7" fill="none" stroke-linejoin="round" stroke-linecap="round" clip-path="url(#c32)"/>
<path d="M549.2 18.1 L549.25 18.17 L549.5 20.43 L549.75 25.8 L550 33.95 L550.25 44.44 L550.5 56.73 L550.75 70.28 L551 84.58 L551.25 99.18 L551.5 113.7 L551.75 127.87 L552 141.48 L552.25 154.4 L552.5 166.55 L552.75 177.89 L553 188.41 L553.25 198.15 L553.5 207.12 L553.75 215.38 L554 222.97 L554.25 229.93 L554.5 236.33 L554.75 242.2 L555 247.6 L555.25 252.56 L555.5 257.12 L555.75 261.32 L556 265.2 L556.25 268.77 L556.5 272.07 L556.75 275.13 L557 277.96 L557.25 280.59 L557.5 283.03 L557.75 285.3 L558 287.41 L558.25 289.38 L558.5 291.21 L558.75 292.93 L559 294.54 L559.25 296.05 L559.5 297.46 L559.75 298.78 L560 300.03 L560.25 301.2 L560.5 302.31 L560.75 303.35 L561 304.33 L561.25 305.26 L561.5 306.14 L561.75 306.97 L562 307.76 L562.25 308.5 L562.5 309.21 L562.75 309.88 L563 310.52 L563.25 311.13 L563.5 311.71 L563.75 312.26 L564 312.79 L564.25 313.29 L564.5 313.77 L564.75 314.22 L565 314.66 L565.25 315.08 L565.5 315.48 L565.75 315.86 L566 316.23 L566.25 316.58 L566.5 316.92 L566.75 317.24 L567 317.55 L567.25 317.85 L567.5 318.14 L567.75 318.41 L568 318.68 L568.25 318.93 L568.5 319.18 L568.75 319.42 L569 319.64 L569.25 319.87 L569.5 320.08 L569.75 320.28 L570 320.48 L570.25 320.67 L570.5 320.86 L570.75 321.04 L571 321.21 L571.25 321.38 L571.5 321.54 L571.75 321.69 L572 321.85 L572.25 321.99 L572.5 322.13 L572.75 322.27 L573 322.41 L573.25 322.54 L573.5 322.66 L573.75 322.78 L574 322.9 L574.25 323.02 L574.5 323.13 L574.75 323.24 L575 323.34 L575.25 323.44 L575.5 323.54 L575.75 323.64 L576 323.74 L576.25 323.83 L576.5 323.92 L576.75 324 L577 324.09 L577.25 324.17 L577.5 324.25 L577.75 324.33 L578 324.4 L578.25 324.48 L578.5 324.55 L578.75 324.62 L579 324.69 L579.25 324.76 L579.5 324.82 L579.75 324.89 L580 324.95 L580.25 325.01 L580.5 325.07 L580.75 325.13 L581 325.19 L581.25 325.24 L581.5 325.3 L581.75 325.35 L582 325.4 L582.25 325.45 L582.5 325.5 L582.75 325.55 L583 325.6 L583.25 325.64 L583.5 325.69 L583.75 325.73 L584 325.78 L584.25 325.82 L584.5 325.86 L584.75 325.9 L585 325.94 L585.25 325.98 L585.5 326.02 L585.75 326.06 L586 326.09 L586.25 326.13 L586.5 326.16 L586.75 326.2 L587 326.23 L587.25 326.27 L587.5 326.3 L587.75 326.33 L588 326.36 L588.25 326.39 L588.5 326.42 L588.75 326.45 L589 326.48 L589.25 326.51 L589.5 326.54 L589.75 326.57 L590 326.59 L590.25 326.62 L590.5 326.65 L590.75 326.67 L591 326.7 L591.25 326.72 L591.5 326.75 L591.75 326.77 L592 326.79 L592.25 326.82 L592.5 326.84 L592.75 326.86 L593 326.88 L593.25 326.91 L593.5 326.93 L593.75 326.95 L594 326.97 L594.25 326.99 L594.5 327.01 L594.75 327.03 L595 327.05 L595.25 327.07 L595.5 327.08 L595.75 327.1 L596 327.12 L596.25 327.14 L596.5 327.16 L596.75 327.17 L597 327.19 L597.25 327.21 L597.5 327.22 L597.75 327.24 L598 327.25 L598.25 327.27 L598.5 327.29 L598.75 327.3 L599 327.32 L599.25 327.33 L599.5 327.35 L599.75 327.36 L600 327.37 L600.25 327.39 L600.5 327.4 L600.75 327.41 L601 327.43 L601.25 327.44 L601.5 327.45 L601.75 327.47 L602 327.48 L602.25 327.49 L602.5 327.5 L602.75 327.52 L603 327.53 L603.25 327.54 L603.5 327.55 L603.75 327.56 L604 327.57 L604.25 327.58 L604.5 327.6 L604.75 327.61 L605 327.62 L605.25 327.63 L605.5 327.64 L605.75 327.65 L606 327.66 L606.25 327.67 L606.5 327.68 L606.75 327.69 L607 327.7 L607.25 327.71 L607.5 327.72 L607.75 327.72 L608 327.73 L608.25 327.74 L608.5 327.75 L608.75 327.76 L609 327.77 L609.25 327.78 L609.5 327.79 L609.75 327.79 L610 327.8 L610.25 327.81 L610.5 327.82 L610.75 327.83 L611 327.83 L611.25 327.84 L611.5 327.85 L611.75 327.86 L612 327.87 L612.25 327.87 L612.5 327.88 L612.75 327.89 L613 327.89 L613.25 327.9 L613.5 327.91 L613.75 327.91 L614 327.92 L614.25 327.93 L614.5 327.94 L614.75 327.94 L615 327.95 L615.25 327.95 L615.5 327.96 L615.75 327.97 L616 327.97 L616.25 327.98 L616.5 327.99 L616.75 327.99 L617 328 L617.25 328 L617.5 328.01 L617.75 328.02 L618 328.02 L618.25 328.03 L618.5 328.03 L618.75 328.04 L619 328.04 L619.25 328.05 L619.5 328.05 L619.75 328.06 L620 328.06 L620.25 328.07 L620.5 328.07 L620.75 328.08 L621 328.08 L621.25 328.09 L621.5 328.09 L621.75 328.1 L622 328.1 L622.25 328.11 L622.5 328.11 L622.75 328.12 L623 328.12 L623.25 328.13 L623.5 328.13 L623.75 328.14 L624 328.14 L624.25 328.14 L624.5 328.15 L624.75 328.15 L625 328.16 L625.25 328.16 L625.5 328.17 L625.75 328.17 L626 328.17 L626.25 328.18 L626.5 328.18 L626.75 328.19 L627 328.19 L627.25 328.19 L627.5 328.2 L627.75 328.2 L628 328.21 L628.25 328.21 L628.5 328.21 L628.75 328.22 L629 328.22 L629.25 328.22 L629.5 328.23 L629.75 328.23 L630 328.23 L630.25 328.24 L630.5 328.24 L630.75 328.24 L631 328.25 L631.25 328.25 L631.5 328.25 L631.75 328.26 L632 328.26 L632.25 328.26 L632.5 328.27 L632.75 328.27 L633 328.27 L633.25 328.28 L633.5 328.28 L633.75 328.28 L634 328.29 L634.25 328.29 L634.5 328.29 L634.75 328.3 L635 328.3 L635.25 328.3 L635.5 328.3 L635.75 328.31 L636 328.31 L636.25 328.31 L636.5 328.32 L636.75 328.32 L637 328.32 L637.25 328.32 L637.5 328.33 L637.75 328.33 L638 328.33 L638.25 328.33 L638.5 328.34 L638.75 328.34 L639 328.34 L639.25 328.34 L639.5 328.35 L639.75 328.35 L640 328.35 L640.25 328.35 L640.5 328.36 L640.75 328.36 L641 328.36 L641.25 328.36 L641.5 328.37 L641.75 328.37 L642 328.37 L642.25 328.37 L642.5 328.38 L642.75 328.38 L643 328.38 L643.25 328.38 L643.5 328.38 L643.75 328.39 L644 328.39 L644.25 328.39 L644.5 328.39 L644.75 328.4 L645 328.4 L645.25 328.4 L645.5 328.4 L645.75 328.4 L646 328.41 L646.25 328.41 L646.5 328.41 L646.75 328.41 L647 328.41 L647.25 328.42 L647.5 328.42 L647.75 328.42 L648 328.42 L648.25 328.42 L648.5 328.43 L648.75 328.43 L649 328.43 L649.25 328.43 L649.5 328.43 L649.75 328.43 L650 328.44 L650.25 328.44 L650.5 328.44 L650.75 328.44 L651 328.44 L651.25 328.45 L651.5 328.45 L651.75 328.45 L652 328.45 L652.25 328.45 L652.5 328.45 L652.75 328.46 L653 328.46 L653.25 328.46 L653.5 328.46 L653.75 328.46 L654 328.46 L654.25 328.47 L654.5 328.47 L654.75 328.47 L655 328.47 L655.25 328.47 L655.5 328.47 L655.75 328.47 L656 328.48 L656.25 328.48 L656.5 328.48 L656.75 328.48 L657 328.48 L657.25 328.48 L657.5 328.49 L657.75 328.49 L658 328.49 L658.25 328.49 L658.5 328.49 L658.75 328.49 L659 328.49 L659.25 328.49 L659.5 328.5 L659.75 328.5 L660 328.5 L660.25 328.5 L660.5 328.5 L660.75 328.5 L661 328.5 L661.25 328.51 L661.5 328.51 L661.75 328.51 L662 328.51 L662.25 328.51 L662.5 328.51 L662.75 328.51 L663 328.51 L663.25 328.52 L663.5 328.52 L663.75 328.52 L664 328.52 L664.25 328.52 L664.5 328.52 L664.75 328.52 L665 328.52 L665.25 328.53 L665.5 328.53 L665.75 328.53 L666 328.53 L666.25 328.53 L666.5 328.53 L666.75 328.53 L667 328.53 L667.25 328.53 L667.5 328.54 L667.75 328.54 L668 328.54 L668.25 328.54 L668.5 328.54 L668.75 328.54 L669 328.54 L669.25 328.54 L669.5 328.54 L669.75 328.55 L670 328.55 L670.25 328.55 L670.5 328.55 L670.75 328.55 L671 328.55 L671.25 328.55 L671.5 328.55 L671.75 328.55 L672 328.55 L672.25 328.56 L672.5 328.56 L672.75 328.56 L673 328.56 L673.25 328.56 L673.5 328.56 L673.75 328.56 L674 328.56 L674.25 328.56 L674.5 328.56 L674.75 328.57 L675 328.57 L675.25 328.57 L675.5 328.57 L675.75 328.57 L676 328.57" stroke="#bf6464" stroke-opacity="0.72" stroke-width="1.7" fill="none" stroke-linejoin="round" stroke-linecap="round" clip-path="url(#c32)"/>
<path d="M561.48 18.1V328.8" stroke="#4a4a8c" stroke-width="1.5" fill="none"/>
<path d="M424 18.1V328.8H676.05M418.5 18.1H424M418.5 49.17H424M418.5 80.24H424M418.5 111.31H424M418.5 142.38H424M418.5 173.45H424M418.5 204.52H424M418.5 235.59H424M418.5 266.66H424M418.5 297.73H424M418.5 328.8H424M424 328.8V333.8M446.91 328.8V333.8M469.83 328.8V333.8M492.74 328.8V333.8M515.65 328.8V333.8M538.57 328.8V333.8M561.48 328.8V333.8M584.4 328.8V333.8M607.31 328.8V333.8M630.22 328.8V333.8M653.14 328.8V333.8M676.05 328.8V333.8" stroke="#262626" stroke-width="1.45" fill="none"/>
<text x="399.47" y="22.2" class="t"><tspan class="z">1</tspan>.0</text>
<path class="o" transform="translate(399.47 22.2) scale(12.9)" d="M0.3726 0L0.2847 0L0.2847 -0.56Q0.2529 -0.5298 0.2026 -0.5Q0.1523 -0.4702 0.1089 -0.4541L0.1089 -0.539Q0.1831 -0.5737 0.2378 -0.6223Q0.2925 -0.6709 0.3179 -0.7158L0.3726 -0.7158Z"/>
<text x="399.47" y="53.27" class="t">0.9</text>
<text x="399.47" y="84.34" class="t">0.8</text>
<text x="399.47" y="115.41" class="t">0.7</text>
<text x="399.47" y="146.48" class="t">0.6</text>
<text x="399.47" y="177.55" class="t">0.5</text>
<text x="399.47" y="208.62" class="t">0.4</text>
<text x="399.47" y="239.69" class="t">0.3</text>
<text x="399.47" y="270.76" class="t">0.2</text>
<text x="399.47" y="301.83" class="t">0.<tspan class="z">1</tspan></text>
<path class="o" transform="translate(410.23 301.83) scale(12.9)" d="M0.3726 0L0.2847 0L0.2847 -0.56Q0.2529 -0.5298 0.2026 -0.5Q0.1523 -0.4702 0.1089 -0.4541L0.1089 -0.539Q0.1831 -0.5737 0.2378 -0.6223Q0.2925 -0.6709 0.3179 -0.7158L0.3726 -0.7158Z"/>
<text x="399.47" y="332.9" class="t">0.0</text>
<text x="417.38" y="345.7" class="t">-<tspan class="z">1</tspan>2</text>
<path class="o" transform="translate(421.68 345.7) scale(12.9)" d="M0.3726 0L0.2847 0L0.2847 -0.56Q0.2529 -0.5298 0.2026 -0.5Q0.1523 -0.4702 0.1089 -0.4541L0.1089 -0.539Q0.1831 -0.5737 0.2378 -0.6223Q0.2925 -0.6709 0.3179 -0.7158L0.3726 -0.7158Z"/>
<text x="466.79" y="345.7" class="t">-8</text>
<text x="512.62" y="345.7" class="t">-4</text>
<text x="560.6" y="345.7" class="t">0</text>
<text x="606.42" y="345.7" class="t">4</text>
<text x="671.58" y="345.7" class="t"><tspan class="z">1</tspan>0</text>
<path class="o" transform="translate(671.58 345.7) scale(12.9)" d="M0.3726 0L0.2847 0L0.2847 -0.56Q0.2529 -0.5298 0.2026 -0.5Q0.1523 -0.4702 0.1089 -0.4541L0.1089 -0.539Q0.1831 -0.5737 0.2378 -0.6223Q0.2925 -0.6709 0.3179 -0.7158L0.3726 -0.7158Z"/>
<text transform="translate(389.3 172.05) rotate(-90)" text-anchor="middle" class="p" textLength="47.2" lengthAdjust="spacingAndGlyphs">Power</text>
<text x="473.4" y="368.3" class="b" textLength="156.4" lengthAdjust="spacingAndGlyphs">Mobility (µ/s)/(V/cm)</text>
<path d="M83.09 402.35V713.05M99.08 402.35V713.05M115.07 402.35V713.05M131.06 402.35V713.05M147.05 402.35V713.05M163.04 402.35V713.05M179.03 402.35V713.05M195.02 402.35V713.05M211.02 402.35V713.05M227.01 402.35V713.05M243 402.35V713.05M258.99 402.35V713.05M274.98 402.35V713.05M290.97 402.35V713.05M306.96 402.35V713.05M322.95 402.35V713.05M67.1 402.35H322.95M67.1 433.42H322.95M67.1 464.49H322.95M67.1 495.56H322.95M67.1 526.63H322.95M67.1 557.7H322.95M67.1 588.77H322.95M67.1 619.84H322.95M67.1 650.91H322.95M67.1 681.98H322.95" stroke="#dedede" stroke-width="1.5" fill="none"/>
<clipPath id="c61"><rect x="67.1" y="402.25" width="255.85" height="312.7"/></clipPath>
<path d="M67.1 712.85 L67.35 712.85 L67.6 712.85 L67.85 712.85 L68.1 712.85 L68.35 712.85 L68.6 712.85 L68.85 712.85 L69.1 712.85 L69.35 712.84 L69.6 712.84 L69.85 712.84 L70.1 712.84 L70.35 712.84 L70.6 712.84 L70.85 712.84 L71.1 712.84 L71.35 712.84 L71.6 712.84 L71.85 712.83 L72.1 712.83 L72.35 712.83 L72.6 712.83 L72.85 712.83 L73.1 712.83 L73.35 712.83 L73.6 712.83 L73.85 712.83 L74.1 712.83 L74.35 712.82 L74.6 712.82 L74.85 712.82 L75.1 712.82 L75.35 712.82 L75.6 712.82 L75.85 712.82 L76.1 712.82 L76.35 712.82 L76.6 712.81 L76.85 712.81 L77.1 712.81 L77.35 712.81 L77.6 712.81 L77.85 712.81 L78.1 712.81 L78.35 712.81 L78.6 712.81 L78.85 712.8 L79.1 712.8 L79.35 712.8 L79.6 712.8 L79.85 712.8 L80.1 712.8 L80.35 712.8 L80.6 712.8 L80.85 712.79 L81.1 712.79 L81.35 712.79 L81.6 712.79 L81.85 712.79 L82.1 712.79 L82.35 712.79 L82.6 712.78 L82.85 712.78 L83.1 712.78 L83.35 712.78 L83.6 712.78 L83.85 712.78 L84.1 712.78 L84.35 712.77 L84.6 712.77 L84.85 712.77 L85.1 712.77 L85.35 712.77 L85.6 712.77 L85.85 712.77 L86.1 712.76 L86.35 712.76 L86.6 712.76 L86.85 712.76 L87.1 712.76 L87.35 712.76 L87.6 712.76 L87.85 712.75 L88.1 712.75 L88.35 712.75 L88.6 712.75 L88.85 712.75 L89.1 712.75 L89.35 712.74 L89.6 712.74 L89.85 712.74 L90.1 712.74 L90.35 712.74 L90.6 712.74 L90.85 712.73 L91.1 712.73 L91.35 712.73 L91.6 712.73 L91.85 712.73 L92.1 712.72 L92.35 712.72 L92.6 712.72 L92.85 712.72 L93.1 712.72 L93.35 712.72 L93.6 712.71 L93.85 712.71 L94.1 712.71 L94.35 712.71 L94.6 712.71 L94.85 712.7 L95.1 712.7 L95.35 712.7 L95.6 712.7 L95.85 712.69 L96.1 712.69 L96.35 712.69 L96.6 712.69 L96.85 712.69 L97.1 712.68 L97.35 712.68 L97.6 712.68 L97.85 712.68 L98.1 712.68 L98.35 712.67 L98.6 712.67 L98.85 712.67 L99.1 712.67 L99.35 712.66 L99.6 712.66 L99.85 712.66 L100.1 712.66 L100.35 712.65 L100.6 712.65 L100.85 712.65 L101.1 712.65 L101.35 712.64 L101.6 712.64 L101.85 712.64 L102.1 712.64 L102.35 712.63 L102.6 712.63 L102.85 712.63 L103.1 712.62 L103.35 712.62 L103.6 712.62 L103.85 712.62 L104.1 712.61 L104.35 712.61 L104.6 712.61 L104.85 712.6 L105.1 712.6 L105.35 712.6 L105.6 712.6 L105.85 712.59 L106.1 712.59 L106.35 712.59 L106.6 712.58 L106.85 712.58 L107.1 712.58 L107.35 712.57 L107.6 712.57 L107.85 712.57 L108.1 712.56 L108.35 712.56 L108.6 712.56 L108.85 712.55 L109.1 712.55 L109.35 712.55 L109.6 712.54 L109.85 712.54 L110.1 712.54 L110.35 712.53 L110.6 712.53 L110.85 712.52 L111.1 712.52 L111.35 712.52 L111.6 712.51 L111.85 712.51 L112.1 712.51 L112.35 712.5 L112.6 712.5 L112.85 712.49 L113.1 712.49 L113.35 712.48 L113.6 712.48 L113.85 712.48 L114.1 712.47 L114.35 712.47 L114.6 712.46 L114.85 712.46 L115.1 712.45 L115.35 712.45 L115.6 712.44 L115.85 712.44 L116.1 712.44 L116.35 712.43 L116.6 712.43 L116.85 712.42 L117.1 712.42 L117.35 712.41 L117.6 712.41 L117.85 712.4 L118.1 712.39 L118.35 712.39 L118.6 712.38 L118.85 712.38 L119.1 712.37 L119.35 712.37 L119.6 712.36 L119.85 712.36 L120.1 712.35 L120.35 712.34 L120.6 712.34 L120.85 712.33 L121.1 712.33 L121.35 712.32 L121.6 712.31 L121.85 712.31 L122.1 712.3 L122.35 712.3 L122.6 712.29 L122.85 712.28 L123.1 712.28 L123.35 712.27 L123.6 712.26 L123.85 712.25 L124.1 712.25 L124.35 712.24 L124.6 712.23 L124.85 712.23 L125.1 712.22 L125.35 712.21 L125.6 712.2 L125.85 712.19 L126.1 712.19 L126.35 712.18 L126.6 712.17 L126.85 712.16 L127.1 712.15 L127.35 712.15 L127.6 712.14 L127.85 712.13 L128.1 712.12 L128.35 712.11 L128.6 712.1 L128.85 712.09 L129.1 712.08 L129.35 712.07 L129.6 712.06 L129.85 712.05 L130.1 712.04 L130.35 712.03 L130.6 712.02 L130.85 712.01 L131.1 712 L131.35 711.99 L131.6 711.98 L131.85 711.97 L132.1 711.96 L132.35 711.95 L132.6 711.94 L132.85 711.92 L133.1 711.91 L133.35 711.9 L133.6 711.89 L133.85 711.87 L134.1 711.86 L134.35 711.85 L134.6 711.84 L134.85 711.82 L135.1 711.81 L135.35 711.79 L135.6 711.78 L135.85 711.77 L136.1 711.75 L136.35 711.74 L136.6 711.72 L136.85 711.71 L137.1 711.69 L137.35 711.68 L137.6 711.66 L137.85 711.64 L138.1 711.63 L138.35 711.61 L138.6 711.59 L138.85 711.57 L139.1 711.56 L139.35 711.54 L139.6 711.52 L139.85 711.5 L140.1 711.48 L140.35 711.46 L140.6 711.44 L140.85 711.42 L141.1 711.4 L141.35 711.38 L141.6 711.36 L141.85 711.33 L142.1 711.31 L142.35 711.29 L142.6 711.27 L142.85 711.24 L143.1 711.22 L143.35 711.19 L143.6 711.17 L143.85 711.14 L144.1 711.11 L144.35 711.09 L144.6 711.06 L144.85 711.03 L145.1 711 L145.35 710.97 L145.6 710.94 L145.85 710.91 L146.1 710.88 L146.35 710.85 L146.6 710.82 L146.85 710.78 L147.1 710.75 L147.35 710.71 L147.6 710.68 L147.85 710.64 L148.1 710.6 L148.35 710.57 L148.6 710.53 L148.85 710.49 L149.1 710.45 L149.35 710.4 L149.6 710.36 L149.85 710.32 L150.1 710.27 L150.35 710.22 L150.6 710.18 L150.85 710.13 L151.1 710.08 L151.35 710.03 L151.6 709.97 L151.85 709.92 L152.1 709.86 L152.35 709.81 L152.6 709.75 L152.85 709.69 L153.1 709.63 L153.35 709.56 L153.6 709.5 L153.85 709.43 L154.1 709.36 L154.35 709.29 L154.6 709.22 L154.85 709.14 L155.1 709.06 L155.35 708.98 L155.6 708.9 L155.85 708.82 L156.1 708.73 L156.35 708.64 L156.6 708.55 L156.85 708.45 L157.1 708.35 L157.35 708.25 L157.6 708.14 L157.85 708.03 L158.1 707.92 L158.35 707.81 L158.6 707.68 L158.85 707.56 L159.1 707.43 L159.35 707.3 L159.6 707.16 L159.85 707.02 L160.1 706.87 L160.35 706.71 L160.6 706.55 L160.85 706.39 L161.1 706.21 L161.35 706.03 L161.6 705.85 L161.85 705.65 L162.1 705.45 L162.35 705.24 L162.6 705.02 L162.85 704.79 L163.1 704.56 L163.35 704.31 L163.6 704.05 L163.85 703.78 L164.1 703.5 L164.35 703.2 L164.6 702.89 L164.85 702.56 L165.1 702.22 L165.35 701.87 L165.6 701.49 L165.85 701.1 L166.1 700.69 L166.35 700.25 L166.6 699.79 L166.85 699.31 L167.1 698.8 L167.35 698.26 L167.6 697.7 L167.85 697.1 L168.1 696.46 L168.35 695.79 L168.6 695.07 L168.85 694.31 L169.1 693.51 L169.35 692.65 L169.6 691.73 L169.85 690.75 L170.1 689.71 L170.35 688.59 L170.6 687.4 L170.85 686.11 L171.1 684.73 L171.35 683.25 L171.6 681.65 L171.85 679.92 L172.1 678.06 L172.35 676.04 L172.6 673.85 L172.85 671.46 L173.1 668.87 L173.35 666.04 L173.6 662.95 L173.85 659.57 L174.1 655.85 L174.35 651.77 L174.6 647.28 L174.85 642.33 L175.1 636.86 L175.35 630.81 L175.6 624.1 L175.85 616.67 L176.1 608.43 L176.35 599.29 L176.6 589.17 L176.85 577.99 L177.1 565.66 L177.35 552.15 L177.6 537.46 L177.85 521.65 L178.1 504.87 L178.35 487.42 L178.6 469.75 L178.85 452.48 L179.1 436.41 L179.35 422.47 L179.6 411.63 L179.85 404.72 L180.1 402.35 L180.1 402.35" stroke="#bf6464" stroke-opacity="0.72" stroke-width="1.7" fill="none" stroke-linejoin="round" stroke-linecap="round" clip-path="url(#c61)"/>
<path d="M180.1 402.35 L180.1 402.35 L180.35 404.72 L180.6 411.63 L180.85 422.47 L181.1 436.41 L181.35 452.48 L181.6 469.75 L181.85 487.42 L182.1 504.87 L182.35 521.65 L182.6 537.46 L182.85 552.15 L183.1 565.66 L183.35 577.99 L183.6 589.17 L183.85 599.29 L184.1 608.43 L184.35 616.67 L184.6 624.1 L184.85 630.81 L185.1 636.86 L185.35 642.33 L185.6 647.28 L185.85 651.77 L186.1 655.85 L186.35 659.57 L186.6 662.95 L186.85 666.04 L187.1 668.87 L187.35 671.46 L187.6 673.85 L187.85 676.04 L188.1 678.06 L188.35 679.92 L188.6 681.65 L188.85 683.25 L189.1 684.73 L189.35 686.11 L189.6 687.4 L189.85 688.59 L190.1 689.71 L190.35 690.75 L190.6 691.73 L190.85 692.65 L191.1 693.51 L191.35 694.31 L191.6 695.07 L191.85 695.79 L192.1 696.46 L192.35 697.1 L192.6 697.7 L192.85 698.26 L193.1 698.8 L193.35 699.31 L193.6 699.79 L193.85 700.25 L194.1 700.69 L194.35 701.1 L194.6 701.49 L194.85 701.87 L195.1 702.22 L195.35 702.56 L195.6 702.89 L195.85 703.2 L196.1 703.5 L196.35 703.78 L196.6 704.05 L196.85 704.31 L197.1 704.56 L197.35 704.79 L197.6 705.02 L197.85 705.24 L198.1 705.45 L198.35 705.65 L198.6 705.85 L198.85 706.03 L199.1 706.21 L199.35 706.39 L199.6 706.55 L199.85 706.71 L200.1 706.87 L200.35 707.02 L200.6 707.16 L200.85 707.3 L201.1 707.43 L201.35 707.56 L201.6 707.68 L201.85 707.81 L202.1 707.92 L202.35 708.03 L202.6 708.14 L202.85 708.25 L203.1 708.35 L203.35 708.45 L203.6 708.55 L203.85 708.64 L204.1 708.73 L204.35 708.82 L204.6 708.9 L204.85 708.98 L205.1 709.06 L205.35 709.14 L205.6 709.22 L205.85 709.29 L206.1 709.36 L206.35 709.43 L206.6 709.5 L206.85 709.56 L207.1 709.63 L207.35 709.69 L207.6 709.75 L207.85 709.81 L208.1 709.86 L208.35 709.92 L208.6 709.97 L208.85 710.03 L209.1 710.08 L209.35 710.13 L209.6 710.18 L209.85 710.22 L210.1 710.27 L210.35 710.32 L210.6 710.36 L210.85 710.4 L211.1 710.45 L211.35 710.49 L211.6 710.53 L211.85 710.57 L212.1 710.6 L212.35 710.64 L212.6 710.68 L212.85 710.71 L213.1 710.75 L213.35 710.78 L213.6 710.82 L213.85 710.85 L214.1 710.88 L214.35 710.91 L214.6 710.94 L214.85 710.97 L215.1 711 L215.35 711.03 L215.6 711.06 L215.85 711.09 L216.1 711.11 L216.35 711.14 L216.6 711.17 L216.85 711.19 L217.1 711.22 L217.35 711.24 L217.6 711.27 L217.85 711.29 L218.1 711.31 L218.35 711.33 L218.6 711.36 L218.85 711.38 L219.1 711.4 L219.35 711.42 L219.6 711.44 L219.85 711.46 L220.1 711.48 L220.35 711.5 L220.6 711.52 L220.85 711.54 L221.1 711.56 L221.35 711.57 L221.6 711.59 L221.85 711.61 L222.1 711.63 L222.35 711.64 L222.6 711.66 L222.85 711.68 L223.1 711.69 L223.35 711.71 L223.6 711.72 L223.85 711.74 L224.1 711.75 L224.35 711.77 L224.6 711.78 L224.85 711.79 L225.1 711.81 L225.35 711.82 L225.6 711.84 L225.85 711.85 L226.1 711.86 L226.35 711.87 L226.6 711.89 L226.85 711.9 L227.1 711.91 L227.35 711.92 L227.6 711.94 L227.85 711.95 L228.1 711.96 L228.35 711.97 L228.6 711.98 L228.85 711.99 L229.1 712 L229.35 712.01 L229.6 712.02 L229.85 712.03 L230.1 712.04 L230.35 712.05 L230.6 712.06 L230.85 712.07 L231.1 712.08 L231.35 712.09 L231.6 712.1 L231.85 712.11 L232.1 712.12 L232.35 712.13 L232.6 712.14 L232.85 712.15 L233.1 712.15 L233.35 712.16 L233.6 712.17 L233.85 712.18 L234.1 712.19 L234.35 712.19 L234.6 712.2 L234.85 712.21 L235.1 712.22 L235.35 712.23 L235.6 712.23 L235.85 712.24 L236.1 712.25 L236.35 712.25 L236.6 712.26 L236.85 712.27 L237.1 712.28 L237.35 712.28 L237.6 712.29 L237.85 712.3 L238.1 712.3 L238.35 712.31 L238.6 712.31 L238.85 712.32 L239.1 712.33 L239.35 712.33 L239.6 712.34 L239.85 712.34 L240.1 712.35 L240.35 712.36 L240.6 712.36 L240.85 712.37 L241.1 712.37 L241.35 712.38 L241.6 712.38 L241.85 712.39 L242.1 712.39 L242.35 712.4 L242.6 712.41 L242.85 712.41 L243.1 712.42 L243.35 712.42 L243.6 712.43 L243.85 712.43 L244.1 712.44 L244.35 712.44 L244.6 712.44 L244.85 712.45 L245.1 712.45 L245.35 712.46 L245.6 712.46 L245.85 712.47 L246.1 712.47 L246.35 712.48 L246.6 712.48 L246.85 712.48 L247.1 712.49 L247.35 712.49 L247.6 712.5 L247.85 712.5 L248.1 712.51 L248.35 712.51 L248.6 712.51 L248.85 712.52 L249.1 712.52 L249.35 712.52 L249.6 712.53 L249.85 712.53 L250.1 712.54 L250.35 712.54 L250.6 712.54 L250.85 712.55 L251.1 712.55 L251.35 712.55 L251.6 712.56 L251.85 712.56 L252.1 712.56 L252.35 712.57 L252.6 712.57 L252.85 712.57 L253.1 712.58 L253.35 712.58 L253.6 712.58 L253.85 712.59 L254.1 712.59 L254.35 712.59 L254.6 712.6 L254.85 712.6 L255.1 712.6 L255.35 712.6 L255.6 712.61 L255.85 712.61 L256.1 712.61 L256.35 712.62 L256.6 712.62 L256.85 712.62 L257.1 712.62 L257.35 712.63 L257.6 712.63 L257.85 712.63 L258.1 712.64 L258.35 712.64 L258.6 712.64 L258.85 712.64 L259.1 712.65 L259.35 712.65 L259.6 712.65 L259.85 712.65 L260.1 712.66 L260.35 712.66 L260.6 712.66 L260.85 712.66 L261.1 712.67 L261.35 712.67 L261.6 712.67 L261.85 712.67 L262.1 712.68 L262.35 712.68 L262.6 712.68 L262.85 712.68 L263.1 712.68 L263.35 712.69 L263.6 712.69 L263.85 712.69 L264.1 712.69 L264.35 712.69 L264.6 712.7 L264.85 712.7 L265.1 712.7 L265.35 712.7 L265.6 712.71 L265.85 712.71 L266.1 712.71 L266.35 712.71 L266.6 712.71 L266.85 712.72 L267.1 712.72 L267.35 712.72 L267.6 712.72 L267.85 712.72 L268.1 712.72 L268.35 712.73 L268.6 712.73 L268.85 712.73 L269.1 712.73 L269.35 712.73 L269.6 712.74 L269.85 712.74 L270.1 712.74 L270.35 712.74 L270.6 712.74 L270.85 712.74 L271.1 712.75 L271.35 712.75 L271.6 712.75 L271.85 712.75 L272.1 712.75 L272.35 712.75 L272.6 712.76 L272.85 712.76 L273.1 712.76 L273.35 712.76 L273.6 712.76 L273.85 712.76 L274.1 712.76 L274.35 712.77 L274.6 712.77 L274.85 712.77 L275.1 712.77 L275.35 712.77 L275.6 712.77 L275.85 712.77 L276.1 712.78 L276.35 712.78 L276.6 712.78 L276.85 712.78 L277.1 712.78 L277.35 712.78 L277.6 712.78 L277.85 712.79 L278.1 712.79 L278.35 712.79 L278.6 712.79 L278.85 712.79 L279.1 712.79 L279.35 712.79 L279.6 712.8 L279.85 712.8 L280.1 712.8 L280.35 712.8 L280.6 712.8 L280.85 712.8 L281.1 712.8 L281.35 712.8 L281.6 712.81 L281.85 712.81 L282.1 712.81 L282.35 712.81 L282.6 712.81 L282.85 712.81 L283.1 712.81 L283.35 712.81 L283.6 712.81 L283.85 712.82 L284.1 712.82 L284.35 712.82 L284.6 712.82 L284.85 712.82 L285.1 712.82 L285.35 712.82 L285.6 712.82 L285.85 712.82 L286.1 712.83 L286.35 712.83 L286.6 712.83 L286.85 712.83 L287.1 712.83 L287.35 712.83 L287.6 712.83 L287.85 712.83 L288.1 712.83 L288.35 712.83 L288.6 712.84 L288.85 712.84 L289.1 712.84 L289.35 712.84 L289.6 712.84 L289.85 712.84 L290.1 712.84 L290.35 712.84 L290.6 712.84 L290.85 712.84 L291.1 712.85 L291.35 712.85 L291.6 712.85 L291.85 712.85 L292.1 712.85 L292.35 712.85 L292.6 712.85 L292.85 712.85 L293.1 712.85 L293.35 712.85 L293.6 712.85 L293.85 712.86 L294.1 712.86 L294.35 712.86 L294.6 712.86 L294.85 712.86 L295.1 712.86 L295.35 712.86 L295.6 712.86 L295.85 712.86 L296.1 712.86 L296.35 712.86 L296.6 712.86 L296.85 712.86 L297.1 712.87 L297.35 712.87 L297.6 712.87 L297.85 712.87 L298.1 712.87 L298.35 712.87 L298.6 712.87 L298.85 712.87 L299.1 712.87 L299.35 712.87 L299.6 712.87 L299.85 712.87 L300.1 712.87 L300.35 712.88 L300.6 712.88 L300.85 712.88 L301.1 712.88 L301.35 712.88 L301.6 712.88 L301.85 712.88 L302.1 712.88 L302.35 712.88 L302.6 712.88 L302.85 712.88 L303.1 712.88 L303.35 712.88 L303.6 712.88 L303.85 712.89 L304.1 712.89 L304.35 712.89 L304.6 712.89 L304.85 712.89 L305.1 712.89 L305.35 712.89 L305.6 712.89 L305.85 712.89 L306.1 712.89 L306.35 712.89 L306.6 712.89 L306.85 712.89 L307.1 712.89 L307.35 712.89 L307.6 712.89 L307.85 712.9 L308.1 712.9 L308.35 712.9 L308.6 712.9 L308.85 712.9 L309.1 712.9 L309.35 712.9 L309.6 712.9 L309.85 712.9 L310.1 712.9 L310.35 712.9 L310.6 712.9 L310.85 712.9 L311.1 712.9 L311.35 712.9 L311.6 712.9 L311.85 712.9 L312.1 712.91 L312.35 712.91 L312.6 712.91 L312.85 712.91 L313.1 712.91 L313.35 712.91 L313.6 712.91 L313.85 712.91 L314.1 712.91 L314.35 712.91 L314.6 712.91 L314.85 712.91 L315.1 712.91 L315.35 712.91 L315.6 712.91 L315.85 712.91 L316.1 712.91 L316.35 712.91 L316.6 712.91 L316.85 712.92 L317.1 712.92 L317.35 712.92 L317.6 712.92 L317.85 712.92 L318.1 712.92 L318.35 712.92 L318.6 712.92 L318.85 712.92 L319.1 712.92 L319.35 712.92 L319.6 712.92 L319.85 712.92 L320.1 712.92 L320.35 712.92 L320.6 712.92 L320.85 712.92 L321.1 712.92 L321.35 712.92 L321.6 712.92 L321.85 712.92 L322.1 712.92 L322.35 712.93 L322.6 712.93 L322.85 712.93" stroke="#bf6464" stroke-opacity="0.72" stroke-width="1.7" fill="none" stroke-linejoin="round" stroke-linecap="round" clip-path="url(#c61)"/>
<path d="M195.02 402.35V713.05" stroke="#4a4a8c" stroke-width="1.5" fill="none"/>
<path d="M67.1 402.35V713.05H322.95M61.6 402.35H67.1M61.6 433.42H67.1M61.6 464.49H67.1M61.6 495.56H67.1M61.6 526.63H67.1M61.6 557.7H67.1M61.6 588.77H67.1M61.6 619.84H67.1M61.6 650.91H67.1M61.6 681.98H67.1M61.6 713.05H67.1M67.1 713.05V718.05M83.09 713.05V718.05M99.08 713.05V718.05M115.07 713.05V718.05M131.06 713.05V718.05M147.05 713.05V718.05M163.04 713.05V718.05M179.03 713.05V718.05M195.02 713.05V718.05M211.02 713.05V718.05M227.01 713.05V718.05M243 713.05V718.05M258.99 713.05V718.05M274.98 713.05V718.05M290.97 713.05V718.05M306.96 713.05V718.05M322.95 713.05V718.05" stroke="#262626" stroke-width="1.45" fill="none"/>
<text x="42.57" y="406.45" class="t"><tspan class="z">1</tspan>.0</text>
<path class="o" transform="translate(42.57 406.45) scale(12.9)" d="M0.3726 0L0.2847 0L0.2847 -0.56Q0.2529 -0.5298 0.2026 -0.5Q0.1523 -0.4702 0.1089 -0.4541L0.1089 -0.539Q0.1831 -0.5737 0.2378 -0.6223Q0.2925 -0.6709 0.3179 -0.7158L0.3726 -0.7158Z"/>
<text x="42.57" y="437.52" class="t">0.9</text>
<text x="42.57" y="468.59" class="t">0.8</text>
<text x="42.57" y="499.66" class="t">0.7</text>
<text x="42.57" y="530.73" class="t">0.6</text>
<text x="42.57" y="561.8" class="t">0.5</text>
<text x="42.57" y="592.87" class="t">0.4</text>
<text x="42.57" y="623.94" class="t">0.3</text>
<text x="42.57" y="655.01" class="t">0.2</text>
<text x="42.57" y="686.08" class="t">0.<tspan class="z">1</tspan></text>
<path class="o" transform="translate(53.33 686.08) scale(12.9)" d="M0.3726 0L0.2847 0L0.2847 -0.56Q0.2529 -0.5298 0.2026 -0.5Q0.1523 -0.4702 0.1089 -0.4541L0.1089 -0.539Q0.1831 -0.5737 0.2378 -0.6223Q0.2925 -0.6709 0.3179 -0.7158L0.3726 -0.7158Z"/>
<text x="42.57" y="717.15" class="t">0.0</text>
<text x="56.89" y="729.95" class="t">-<tspan class="z">1</tspan>60</text>
<path class="o" transform="translate(61.19 729.95) scale(12.9)" d="M0.3726 0L0.2847 0L0.2847 -0.56Q0.2529 -0.5298 0.2026 -0.5Q0.1523 -0.4702 0.1089 -0.4541L0.1089 -0.539Q0.1831 -0.5737 0.2378 -0.6223Q0.2925 -0.6709 0.3179 -0.7158L0.3726 -0.7158Z"/>
<text x="124.44" y="729.95" class="t">-80</text>
<text x="194.14" y="729.95" class="t">0</text>
<text x="254.52" y="729.95" class="t">80</text>
<text x="314.89" y="729.95" class="t"><tspan class="z">1</tspan>60</text>
<path class="o" transform="translate(314.89 729.95) scale(12.9)" d="M0.3726 0L0.2847 0L0.2847 -0.56Q0.2529 -0.5298 0.2026 -0.5Q0.1523 -0.4702 0.1089 -0.4541L0.1089 -0.539Q0.1831 -0.5737 0.2378 -0.6223Q0.2925 -0.6709 0.3179 -0.7158L0.3726 -0.7158Z"/>
<text transform="translate(33.4 558.2) rotate(-90)" text-anchor="middle" class="p" textLength="47.2" lengthAdjust="spacingAndGlyphs">Power</text>
<text x="124.8" y="748.9" class="b" textLength="140.1" lengthAdjust="spacingAndGlyphs">Zeta potential (mV)</text>
<path d="M447.31 402.45V713.05M468.32 402.45V713.05M489.32 402.45V713.05M510.33 402.45V713.05M531.34 402.45V713.05M552.35 402.45V713.05M573.36 402.45V713.05M594.37 402.45V713.05M615.38 402.45V713.05M636.38 402.45V713.05M657.39 402.45V713.05M678.4 402.45V713.05M426.3 402.45H678.4M426.3 433.51H678.4M426.3 464.57H678.4M426.3 495.63H678.4M426.3 526.69H678.4M426.3 557.75H678.4M426.3 588.81H678.4M426.3 619.87H678.4M426.3 650.93H678.4M426.3 681.99H678.4" stroke="#dedede" stroke-width="1.5" fill="none"/>
<clipPath id="c89"><rect x="426.3" y="402.35" width="252.1" height="312.6"/></clipPath>
<path d="M426.3 712.82 L426.55 712.82 L426.8 712.82 L427.05 712.82 L427.3 712.82 L427.55 712.82 L427.8 712.81 L428.05 712.81 L428.3 712.81 L428.55 712.81 L428.8 712.81 L429.05 712.81 L429.3 712.81 L429.55 712.81 L429.8 712.81 L430.05 712.8 L430.3 712.8 L430.55 712.8 L430.8 712.8 L431.05 712.8 L431.3 712.8 L431.55 712.8 L431.8 712.8 L432.05 712.8 L432.3 712.79 L432.55 712.79 L432.8 712.79 L433.05 712.79 L433.3 712.79 L433.55 712.79 L433.8 712.79 L434.05 712.79 L434.3 712.78 L434.55 712.78 L434.8 712.78 L435.05 712.78 L435.3 712.78 L435.55 712.78 L435.8 712.78 L436.05 712.77 L436.3 712.77 L436.55 712.77 L436.8 712.77 L437.05 712.77 L437.3 712.77 L437.55 712.77 L437.8 712.77 L438.05 712.76 L438.3 712.76 L438.55 712.76 L438.8 712.76 L439.05 712.76 L439.3 712.76 L439.55 712.75 L439.8 712.75 L440.05 712.75 L440.3 712.75 L440.55 712.75 L440.8 712.75 L441.05 712.75 L441.3 712.74 L441.55 712.74 L441.8 712.74 L442.05 712.74 L442.3 712.74 L442.55 712.74 L442.8 712.73 L443.05 712.73 L443.3 712.73 L443.55 712.73 L443.8 712.73 L444.05 712.73 L444.3 712.72 L444.55 712.72 L444.8 712.72 L445.05 712.72 L445.3 712.72 L445.55 712.71 L445.8 712.71 L446.05 712.71 L446.3 712.71 L446.55 712.71 L446.8 712.71 L447.05 712.7 L447.3 712.7 L447.55 712.7 L447.8 712.7 L448.05 712.7 L448.3 712.69 L448.55 712.69 L448.8 712.69 L449.05 712.69 L449.3 712.69 L449.55 712.68 L449.8 712.68 L450.05 712.68 L450.3 712.68 L450.55 712.67 L450.8 712.67 L451.05 712.67 L451.3 712.67 L451.55 712.67 L451.8 712.66 L452.05 712.66 L452.3 712.66 L452.55 712.66 L452.8 712.65 L453.05 712.65 L453.3 712.65 L453.55 712.65 L453.8 712.64 L454.05 712.64 L454.3 712.64 L454.55 712.64 L454.8 712.63 L455.05 712.63 L455.3 712.63 L455.55 712.63 L455.8 712.62 L456.05 712.62 L456.3 712.62 L456.55 712.62 L456.8 712.61 L457.05 712.61 L457.3 712.61 L457.55 712.61 L457.8 712.6 L458.05 712.6 L458.3 712.6 L458.55 712.59 L458.8 712.59 L459.05 712.59 L459.3 712.59 L459.55 712.58 L459.8 712.58 L460.05 712.58 L460.3 712.57 L460.55 712.57 L460.8 712.57 L461.05 712.56 L461.3 712.56 L461.55 712.56 L461.8 712.55 L462.05 712.55 L462.3 712.55 L462.55 712.54 L462.8 712.54 L463.05 712.54 L463.3 712.53 L463.55 712.53 L463.8 712.53 L464.05 712.52 L464.3 712.52 L464.55 712.52 L464.8 712.51 L465.05 712.51 L465.3 712.5 L465.55 712.5 L465.8 712.5 L466.05 712.49 L466.3 712.49 L466.55 712.48 L466.8 712.48 L467.05 712.48 L467.3 712.47 L467.55 712.47 L467.8 712.46 L468.05 712.46 L468.3 712.46 L468.55 712.45 L468.8 712.45 L469.05 712.44 L469.3 712.44 L469.55 712.43 L469.8 712.43 L470.05 712.42 L470.3 712.42 L470.55 712.41 L470.8 712.41 L471.05 712.4 L471.3 712.4 L471.55 712.39 L471.8 712.39 L472.05 712.38 L472.3 712.38 L472.55 712.37 L472.8 712.37 L473.05 712.36 L473.3 712.36 L473.55 712.35 L473.8 712.35 L474.05 712.34 L474.3 712.34 L474.55 712.33 L474.8 712.32 L475.05 712.32 L475.3 712.31 L475.55 712.31 L475.8 712.3 L476.05 712.29 L476.3 712.29 L476.55 712.28 L476.8 712.28 L477.05 712.27 L477.3 712.26 L477.55 712.26 L477.8 712.25 L478.05 712.24 L478.3 712.24 L478.55 712.23 L478.8 712.22 L479.05 712.21 L479.3 712.21 L479.55 712.2 L479.8 712.19 L480.05 712.18 L480.3 712.18 L480.55 712.17 L480.8 712.16 L481.05 712.15 L481.3 712.15 L481.55 712.14 L481.8 712.13 L482.05 712.12 L482.3 712.11 L482.55 712.1 L482.8 712.09 L483.05 712.09 L483.3 712.08 L483.55 712.07 L483.8 712.06 L484.05 712.05 L484.3 712.04 L484.55 712.03 L484.8 712.02 L485.05 712.01 L485.3 712 L485.55 711.99 L485.8 711.98 L486.05 711.97 L486.3 711.96 L486.55 711.95 L486.8 711.94 L487.05 711.92 L487.3 711.91 L487.55 711.9 L487.8 711.89 L488.05 711.88 L488.3 711.87 L488.55 711.85 L488.8 711.84 L489.05 711.83 L489.3 711.82 L489.55 711.8 L489.8 711.79 L490.05 711.78 L490.3 711.76 L490.55 711.75 L490.8 711.73 L491.05 711.72 L491.3 711.71 L491.55 711.69 L491.8 711.68 L492.05 711.66 L492.3 711.64 L492.55 711.63 L492.8 711.61 L493.05 711.6 L493.3 711.58 L493.55 711.56 L493.8 711.55 L494.05 711.53 L494.3 711.51 L494.55 711.49 L494.8 711.47 L495.05 711.45 L495.3 711.44 L495.55 711.42 L495.8 711.4 L496.05 711.38 L496.3 711.36 L496.55 711.33 L496.8 711.31 L497.05 711.29 L497.3 711.27 L497.55 711.25 L497.8 711.22 L498.05 711.2 L498.3 711.18 L498.55 711.15 L498.8 711.13 L499.05 711.1 L499.3 711.07 L499.55 711.05 L499.8 711.02 L500.05 710.99 L500.3 710.97 L500.55 710.94 L500.8 710.91 L501.05 710.88 L501.3 710.85 L501.55 710.82 L501.8 710.78 L502.05 710.75 L502.3 710.72 L502.55 710.69 L502.8 710.65 L503.05 710.62 L503.3 710.58 L503.55 710.54 L503.8 710.5 L504.05 710.47 L504.3 710.43 L504.55 710.39 L504.8 710.34 L505.05 710.3 L505.3 710.26 L505.55 710.21 L505.8 710.17 L506.05 710.12 L506.3 710.07 L506.55 710.02 L506.8 709.97 L507.05 709.92 L507.3 709.87 L507.55 709.82 L507.8 709.76 L508.05 709.7 L508.3 709.65 L508.55 709.59 L508.8 709.52 L509.05 709.46 L509.3 709.4 L509.55 709.33 L509.8 709.26 L510.05 709.19 L510.3 709.12 L510.55 709.05 L510.8 708.97 L511.05 708.89 L511.3 708.81 L511.55 708.73 L511.8 708.64 L512.05 708.55 L512.3 708.46 L512.55 708.37 L512.8 708.27 L513.05 708.17 L513.3 708.07 L513.55 707.96 L513.8 707.85 L514.05 707.74 L514.3 707.62 L514.55 707.5 L514.8 707.38 L515.05 707.25 L515.3 707.12 L515.55 706.98 L515.8 706.84 L516.05 706.69 L516.3 706.54 L516.55 706.38 L516.8 706.22 L517.05 706.05 L517.3 705.87 L517.55 705.69 L517.8 705.49 L518.05 705.3 L518.3 705.09 L518.55 704.88 L518.8 704.66 L519.05 704.42 L519.3 704.18 L519.55 703.93 L519.8 703.67 L520.05 703.4 L520.3 703.11 L520.55 702.81 L520.8 702.5 L521.05 702.18 L521.3 701.83 L521.55 701.48 L521.8 701.1 L522.05 700.71 L522.3 700.3 L522.55 699.87 L522.8 699.41 L523.05 698.94 L523.3 698.43 L523.55 697.9 L523.8 697.35 L524.05 696.76 L524.3 696.13 L524.55 695.48 L524.8 694.78 L525.05 694.04 L525.3 693.26 L525.55 692.43 L525.8 691.55 L526.05 690.61 L526.3 689.61 L526.55 688.54 L526.8 687.4 L527.05 686.19 L527.3 684.88 L527.55 683.49 L527.8 681.99 L528.05 680.38 L528.3 678.65 L528.55 676.78 L528.8 674.76 L529.05 672.57 L529.3 670.21 L529.55 667.64 L529.8 664.85 L530.05 661.82 L530.3 658.51 L530.55 654.89 L530.8 650.93 L531.05 646.59 L531.3 641.83 L531.55 636.59 L531.8 630.83 L532.05 624.48 L532.3 617.48 L532.55 609.76 L532.8 601.23 L533.05 591.84 L533.3 581.5 L533.55 570.15 L533.8 557.75 L534.05 544.27 L534.3 529.75 L534.55 514.27 L534.8 498.02 L535.05 481.31 L535.3 464.57 L535.55 448.4 L535.8 433.51 L536.05 420.72 L536.3 410.84 L536.55 404.59 L536.8 402.45 L536.8 402.45" stroke="#bf6464" stroke-opacity="0.72" stroke-width="1.7" fill="none" stroke-linejoin="round" stroke-linecap="round" clip-path="url(#c89)"/>
<path d="M536.8 402.45 L536.8 402.45 L537.05 404.59 L537.3 410.84 L537.55 420.72 L537.8 433.51 L538.05 448.4 L538.3 464.57 L538.55 481.31 L538.8 498.02 L539.05 514.27 L539.3 529.75 L539.55 544.27 L539.8 557.75 L540.05 570.15 L540.3 581.5 L540.55 591.84 L540.8 601.23 L541.05 609.76 L541.3 617.48 L541.55 624.48 L541.8 630.83 L542.05 636.59 L542.3 641.83 L542.55 646.59 L542.8 650.93 L543.05 654.89 L543.3 658.51 L543.55 661.82 L543.8 664.85 L544.05 667.64 L544.3 670.21 L544.55 672.57 L544.8 674.76 L545.05 676.78 L545.3 678.65 L545.55 680.38 L545.8 681.99 L546.05 683.49 L546.3 684.88 L546.55 686.19 L546.8 687.4 L547.05 688.54 L547.3 689.61 L547.55 690.61 L547.8 691.55 L548.05 692.43 L548.3 693.26 L548.55 694.04 L548.8 694.78 L549.05 695.48 L549.3 696.13 L549.55 696.76 L549.8 697.35 L550.05 697.9 L550.3 698.43 L550.55 698.94 L550.8 699.41 L551.05 699.87 L551.3 700.3 L551.55 700.71 L551.8 701.1 L552.05 701.48 L552.3 701.83 L552.55 702.18 L552.8 702.5 L553.05 702.81 L553.3 703.11 L553.55 703.4 L553.8 703.67 L554.05 703.93 L554.3 704.18 L554.55 704.42 L554.8 704.66 L555.05 704.88 L555.3 705.09 L555.55 705.3 L555.8 705.49 L556.05 705.69 L556.3 705.87 L556.55 706.05 L556.8 706.22 L557.05 706.38 L557.3 706.54 L557.55 706.69 L557.8 706.84 L558.05 706.98 L558.3 707.12 L558.55 707.25 L558.8 707.38 L559.05 707.5 L559.3 707.62 L559.55 707.74 L559.8 707.85 L560.05 707.96 L560.3 708.07 L560.55 708.17 L560.8 708.27 L561.05 708.37 L561.3 708.46 L561.55 708.55 L561.8 708.64 L562.05 708.73 L562.3 708.81 L562.55 708.89 L562.8 708.97 L563.05 709.05 L563.3 709.12 L563.55 709.19 L563.8 709.26 L564.05 709.33 L564.3 709.4 L564.55 709.46 L564.8 709.52 L565.05 709.59 L565.3 709.65 L565.55 709.7 L565.8 709.76 L566.05 709.82 L566.3 709.87 L566.55 709.92 L566.8 709.97 L567.05 710.02 L567.3 710.07 L567.55 710.12 L567.8 710.17 L568.05 710.21 L568.3 710.26 L568.55 710.3 L568.8 710.34 L569.05 710.39 L569.3 710.43 L569.55 710.47 L569.8 710.5 L570.05 710.54 L570.3 710.58 L570.55 710.62 L570.8 710.65 L571.05 710.69 L571.3 710.72 L571.55 710.75 L571.8 710.78 L572.05 710.82 L572.3 710.85 L572.55 710.88 L572.8 710.91 L573.05 710.94 L573.3 710.97 L573.55 710.99 L573.8 711.02 L574.05 711.05 L574.3 711.07 L574.55 711.1 L574.8 711.13 L575.05 711.15 L575.3 711.18 L575.55 711.2 L575.8 711.22 L576.05 711.25 L576.3 711.27 L576.55 711.29 L576.8 711.31 L577.05 711.33 L577.3 711.36 L577.55 711.38 L577.8 711.4 L578.05 711.42 L578.3 711.44 L578.55 711.45 L578.8 711.47 L579.05 711.49 L579.3 711.51 L579.55 711.53 L579.8 711.55 L580.05 711.56 L580.3 711.58 L580.55 711.6 L580.8 711.61 L581.05 711.63 L581.3 711.64 L581.55 711.66 L581.8 711.68 L582.05 711.69 L582.3 711.71 L582.55 711.72 L582.8 711.73 L583.05 711.75 L583.3 711.76 L583.55 711.78 L583.8 711.79 L584.05 711.8 L584.3 711.82 L584.55 711.83 L584.8 711.84 L585.05 711.85 L585.3 711.87 L585.55 711.88 L585.8 711.89 L586.05 711.9 L586.3 711.91 L586.55 711.92 L586.8 711.94 L587.05 711.95 L587.3 711.96 L587.55 711.97 L587.8 711.98 L588.05 711.99 L588.3 712 L588.55 712.01 L588.8 712.02 L589.05 712.03 L589.3 712.04 L589.55 712.05 L589.8 712.06 L590.05 712.07 L590.3 712.08 L590.55 712.09 L590.8 712.09 L591.05 712.1 L591.3 712.11 L591.55 712.12 L591.8 712.13 L592.05 712.14 L592.3 712.15 L592.55 712.15 L592.8 712.16 L593.05 712.17 L593.3 712.18 L593.55 712.18 L593.8 712.19 L594.05 712.2 L594.3 712.21 L594.55 712.21 L594.8 712.22 L595.05 712.23 L595.3 712.24 L595.55 712.24 L595.8 712.25 L596.05 712.26 L596.3 712.26 L596.55 712.27 L596.8 712.28 L597.05 712.28 L597.3 712.29 L597.55 712.29 L597.8 712.3 L598.05 712.31 L598.3 712.31 L598.55 712.32 L598.8 712.32 L599.05 712.33 L599.3 712.34 L599.55 712.34 L599.8 712.35 L600.05 712.35 L600.3 712.36 L600.55 712.36 L600.8 712.37 L601.05 712.37 L601.3 712.38 L601.55 712.38 L601.8 712.39 L602.05 712.39 L602.3 712.4 L602.55 712.4 L602.8 712.41 L603.05 712.41 L603.3 712.42 L603.55 712.42 L603.8 712.43 L604.05 712.43 L604.3 712.44 L604.55 712.44 L604.8 712.45 L605.05 712.45 L605.3 712.46 L605.55 712.46 L605.8 712.46 L606.05 712.47 L606.3 712.47 L606.55 712.48 L606.8 712.48 L607.05 712.48 L607.3 712.49 L607.55 712.49 L607.8 712.5 L608.05 712.5 L608.3 712.5 L608.55 712.51 L608.8 712.51 L609.05 712.52 L609.3 712.52 L609.55 712.52 L609.8 712.53 L610.05 712.53 L610.3 712.53 L610.55 712.54 L610.8 712.54 L611.05 712.54 L611.3 712.55 L611.55 712.55 L611.8 712.55 L612.05 712.56 L612.3 712.56 L612.55 712.56 L612.8 712.57 L613.05 712.57 L613.3 712.57 L613.55 712.58 L613.8 712.58 L614.05 712.58 L614.3 712.59 L614.55 712.59 L614.8 712.59 L615.05 712.59 L615.3 712.6 L615.55 712.6 L615.8 712.6 L616.05 712.61 L616.3 712.61 L616.55 712.61 L616.8 712.61 L617.05 712.62 L617.3 712.62 L617.55 712.62 L617.8 712.62 L618.05 712.63 L618.3 712.63 L618.55 712.63 L618.8 712.63 L619.05 712.64 L619.3 712.64 L619.55 712.64 L619.8 712.64 L620.05 712.65 L620.3 712.65 L620.55 712.65 L620.8 712.65 L621.05 712.66 L621.3 712.66 L621.55 712.66 L621.8 712.66 L622.05 712.67 L622.3 712.67 L622.55 712.67 L622.8 712.67 L623.05 712.67 L623.3 712.68 L623.55 712.68 L623.8 712.68 L624.05 712.68 L624.3 712.69 L624.55 712.69 L624.8 712.69 L625.05 712.69 L625.3 712.69 L625.55 712.7 L625.8 712.7 L626.05 712.7 L626.3 712.7 L626.55 712.7 L626.8 712.71 L627.05 712.71 L627.3 712.71 L627.55 712.71 L627.8 712.71 L628.05 712.71 L628.3 712.72 L628.55 712.72 L628.8 712.72 L629.05 712.72 L629.3 712.72 L629.55 712.73 L629.8 712.73 L630.05 712.73 L630.3 712.73 L630.55 712.73 L630.8 712.73 L631.05 712.74 L631.3 712.74 L631.55 712.74 L631.8 712.74 L632.05 712.74 L632.3 712.74 L632.55 712.75 L632.8 712.75 L633.05 712.75 L633.3 712.75 L633.55 712.75 L633.8 712.75 L634.05 712.75 L634.3 712.76 L634.55 712.76 L634.8 712.76 L635.05 712.76 L635.3 712.76 L635.55 712.76 L635.8 712.77 L636.05 712.77 L636.3 712.77 L636.55 712.77 L636.8 712.77 L637.05 712.77 L637.3 712.77 L637.55 712.77 L637.8 712.78 L638.05 712.78 L638.3 712.78 L638.55 712.78 L638.8 712.78 L639.05 712.78 L639.3 712.78 L639.55 712.79 L639.8 712.79 L640.05 712.79 L640.3 712.79 L640.55 712.79 L640.8 712.79 L641.05 712.79 L641.3 712.79 L641.55 712.8 L641.8 712.8 L642.05 712.8 L642.3 712.8 L642.55 712.8 L642.8 712.8 L643.05 712.8 L643.3 712.8 L643.55 712.8 L643.8 712.81 L644.05 712.81 L644.3 712.81 L644.55 712.81 L644.8 712.81 L645.05 712.81 L645.3 712.81 L645.55 712.81 L645.8 712.81 L646.05 712.82 L646.3 712.82 L646.55 712.82 L646.8 712.82 L647.05 712.82 L647.3 712.82 L647.55 712.82 L647.8 712.82 L648.05 712.82 L648.3 712.83 L648.55 712.83 L648.8 712.83 L649.05 712.83 L649.3 712.83 L649.55 712.83 L649.8 712.83 L650.05 712.83 L650.3 712.83 L650.55 712.83 L650.8 712.84 L651.05 712.84 L651.3 712.84 L651.55 712.84 L651.8 712.84 L652.05 712.84 L652.3 712.84 L652.55 712.84 L652.8 712.84 L653.05 712.84 L653.3 712.84 L653.55 712.85 L653.8 712.85 L654.05 712.85 L654.3 712.85 L654.55 712.85 L654.8 712.85 L655.05 712.85 L655.3 712.85 L655.55 712.85 L655.8 712.85 L656.05 712.85 L656.3 712.85 L656.55 712.86 L656.8 712.86 L657.05 712.86 L657.3 712.86 L657.55 712.86 L657.8 712.86 L658.05 712.86 L658.3 712.86 L658.55 712.86 L658.8 712.86 L659.05 712.86 L659.3 712.86 L659.55 712.86 L659.8 712.87 L660.05 712.87 L660.3 712.87 L660.55 712.87 L660.8 712.87 L661.05 712.87 L661.3 712.87 L661.55 712.87 L661.8 712.87 L662.05 712.87 L662.3 712.87 L662.55 712.87 L662.8 712.87 L663.05 712.87 L663.3 712.88 L663.55 712.88 L663.8 712.88 L664.05 712.88 L664.3 712.88 L664.55 712.88 L664.8 712.88 L665.05 712.88 L665.3 712.88 L665.55 712.88 L665.8 712.88 L666.05 712.88 L666.3 712.88 L666.55 712.88 L666.8 712.88 L667.05 712.89 L667.3 712.89 L667.55 712.89 L667.8 712.89 L668.05 712.89 L668.3 712.89 L668.55 712.89 L668.8 712.89 L669.05 712.89 L669.3 712.89 L669.55 712.89 L669.8 712.89 L670.05 712.89 L670.3 712.89 L670.55 712.89 L670.8 712.89 L671.05 712.89 L671.3 712.9 L671.55 712.9 L671.8 712.9 L672.05 712.9 L672.3 712.9 L672.55 712.9 L672.8 712.9 L673.05 712.9 L673.3 712.9 L673.55 712.9 L673.8 712.9 L674.05 712.9 L674.3 712.9 L674.55 712.9 L674.8 712.9 L675.05 712.9 L675.3 712.9 L675.55 712.9 L675.8 712.91 L676.05 712.91 L676.3 712.91 L676.55 712.91 L676.8 712.91 L677.05 712.91 L677.3 712.91 L677.55 712.91 L677.8 712.91 L678.05 712.91 L678.3 712.91" stroke="#bf6464" stroke-opacity="0.72" stroke-width="1.7" fill="none" stroke-linejoin="round" stroke-linecap="round" clip-path="url(#c89)"/>
<path d="M552.35 402.45V713.05" stroke="#4a4a8c" stroke-width="1.5" fill="none"/>
<path d="M426.3 402.45V713.05H678.4M420.8 402.45H426.3M420.8 433.51H426.3M420.8 464.57H426.3M420.8 495.63H426.3M420.8 526.69H426.3M420.8 557.75H426.3M420.8 588.81H426.3M420.8 619.87H426.3M420.8 650.93H426.3M420.8 681.99H426.3M420.8 713.05H426.3M426.3 713.05V718.05M447.31 713.05V718.05M468.32 713.05V718.05M489.32 713.05V718.05M510.33 713.05V718.05M531.34 713.05V718.05M552.35 713.05V718.05M573.36 713.05V718.05M594.37 713.05V718.05M615.38 713.05V718.05M636.38 713.05V718.05M657.39 713.05V718.05M678.4 713.05V718.05" stroke="#262626" stroke-width="1.45" fill="none"/>
<text x="401.77" y="406.55" class="t"><tspan class="z">1</tspan>.0</text>
<path class="o" transform="translate(401.77 406.55) scale(12.9)" d="M0.3726 0L0.2847 0L0.2847 -0.56Q0.2529 -0.5298 0.2026 -0.5Q0.1523 -0.4702 0.1089 -0.4541L0.1089 -0.539Q0.1831 -0.5737 0.2378 -0.6223Q0.2925 -0.6709 0.3179 -0.7158L0.3726 -0.7158Z"/>
<text x="401.77" y="437.61" class="t">0.9</text>
<text x="401.77" y="468.67" class="t">0.8</text>
<text x="401.77" y="499.73" class="t">0.7</text>
<text x="401.77" y="530.79" class="t">0.6</text>
<text x="401.77" y="561.85" class="t">0.5</text>
<text x="401.77" y="592.91" class="t">0.4</text>
<text x="401.77" y="623.97" class="t">0.3</text>
<text x="401.77" y="655.03" class="t">0.2</text>
<text x="401.77" y="686.09" class="t">0.<tspan class="z">1</tspan></text>
<path class="o" transform="translate(412.53 686.09) scale(12.9)" d="M0.3726 0L0.2847 0L0.2847 -0.56Q0.2529 -0.5298 0.2026 -0.5Q0.1523 -0.4702 0.1089 -0.4541L0.1089 -0.539Q0.1831 -0.5737 0.2378 -0.6223Q0.2925 -0.6709 0.3179 -0.7158L0.3726 -0.7158Z"/>
<text x="401.77" y="717.15" class="t">0.0</text>
<text x="419.68" y="729.95" class="t">-<tspan class="z">1</tspan>2</text>
<path class="o" transform="translate(423.98 729.95) scale(12.9)" d="M0.3726 0L0.2847 0L0.2847 -0.56Q0.2529 -0.5298 0.2026 -0.5Q0.1523 -0.4702 0.1089 -0.4541L0.1089 -0.539Q0.1831 -0.5737 0.2378 -0.6223Q0.2925 -0.6709 0.3179 -0.7158L0.3726 -0.7158Z"/>
<text x="465.28" y="729.95" class="t">-8</text>
<text x="507.3" y="729.95" class="t">-4</text>
<text x="551.46" y="729.95" class="t">0</text>
<text x="593.48" y="729.95" class="t">4</text>
<text x="635.5" y="729.95" class="t">8</text>
<text x="673.93" y="729.95" class="t"><tspan class="z">1</tspan>2</text>
<path class="o" transform="translate(673.93 729.95) scale(12.9)" d="M0.3726 0L0.2847 0L0.2847 -0.56Q0.2529 -0.5298 0.2026 -0.5Q0.1523 -0.4702 0.1089 -0.4541L0.1089 -0.539Q0.1831 -0.5737 0.2378 -0.6223Q0.2925 -0.6709 0.3179 -0.7158L0.3726 -0.7158Z"/>
<text transform="translate(393.9 557.85) rotate(-90)" text-anchor="middle" class="p" textLength="47.2" lengthAdjust="spacingAndGlyphs">Power</text>
<text x="474.2" y="750.5" class="b" textLength="156.4" lengthAdjust="spacingAndGlyphs">Mobility (µ/s)/(V/cm)</text>
<rect x="336" y="17" width="42" height="26" fill="#fff"/>
<text x="339" y="37.1" class="h" textLength="36" lengthAdjust="spacingAndGlyphs">ZnO</text>
<rect x="324" y="401.7" width="67" height="25" fill="#fff"/>
<text x="323" y="421.9" class="h" textLength="64.5" lengthAdjust="spacingAndGlyphs">Cu.ZnO</text>
<circle cx="352.7" cy="173.6" r="18.3" fill="#fff" stroke="#333" stroke-width="1.1"/>
<text x="353.3" y="180.8" text-anchor="middle" class="c">a</text>
<circle cx="355.85" cy="560.2" r="18.3" fill="#fff" stroke="#333" stroke-width="1.1"/>
<text x="357.15" y="568.7" text-anchor="middle" class="c">b</text>
</g>
</svg>
</body></html>
